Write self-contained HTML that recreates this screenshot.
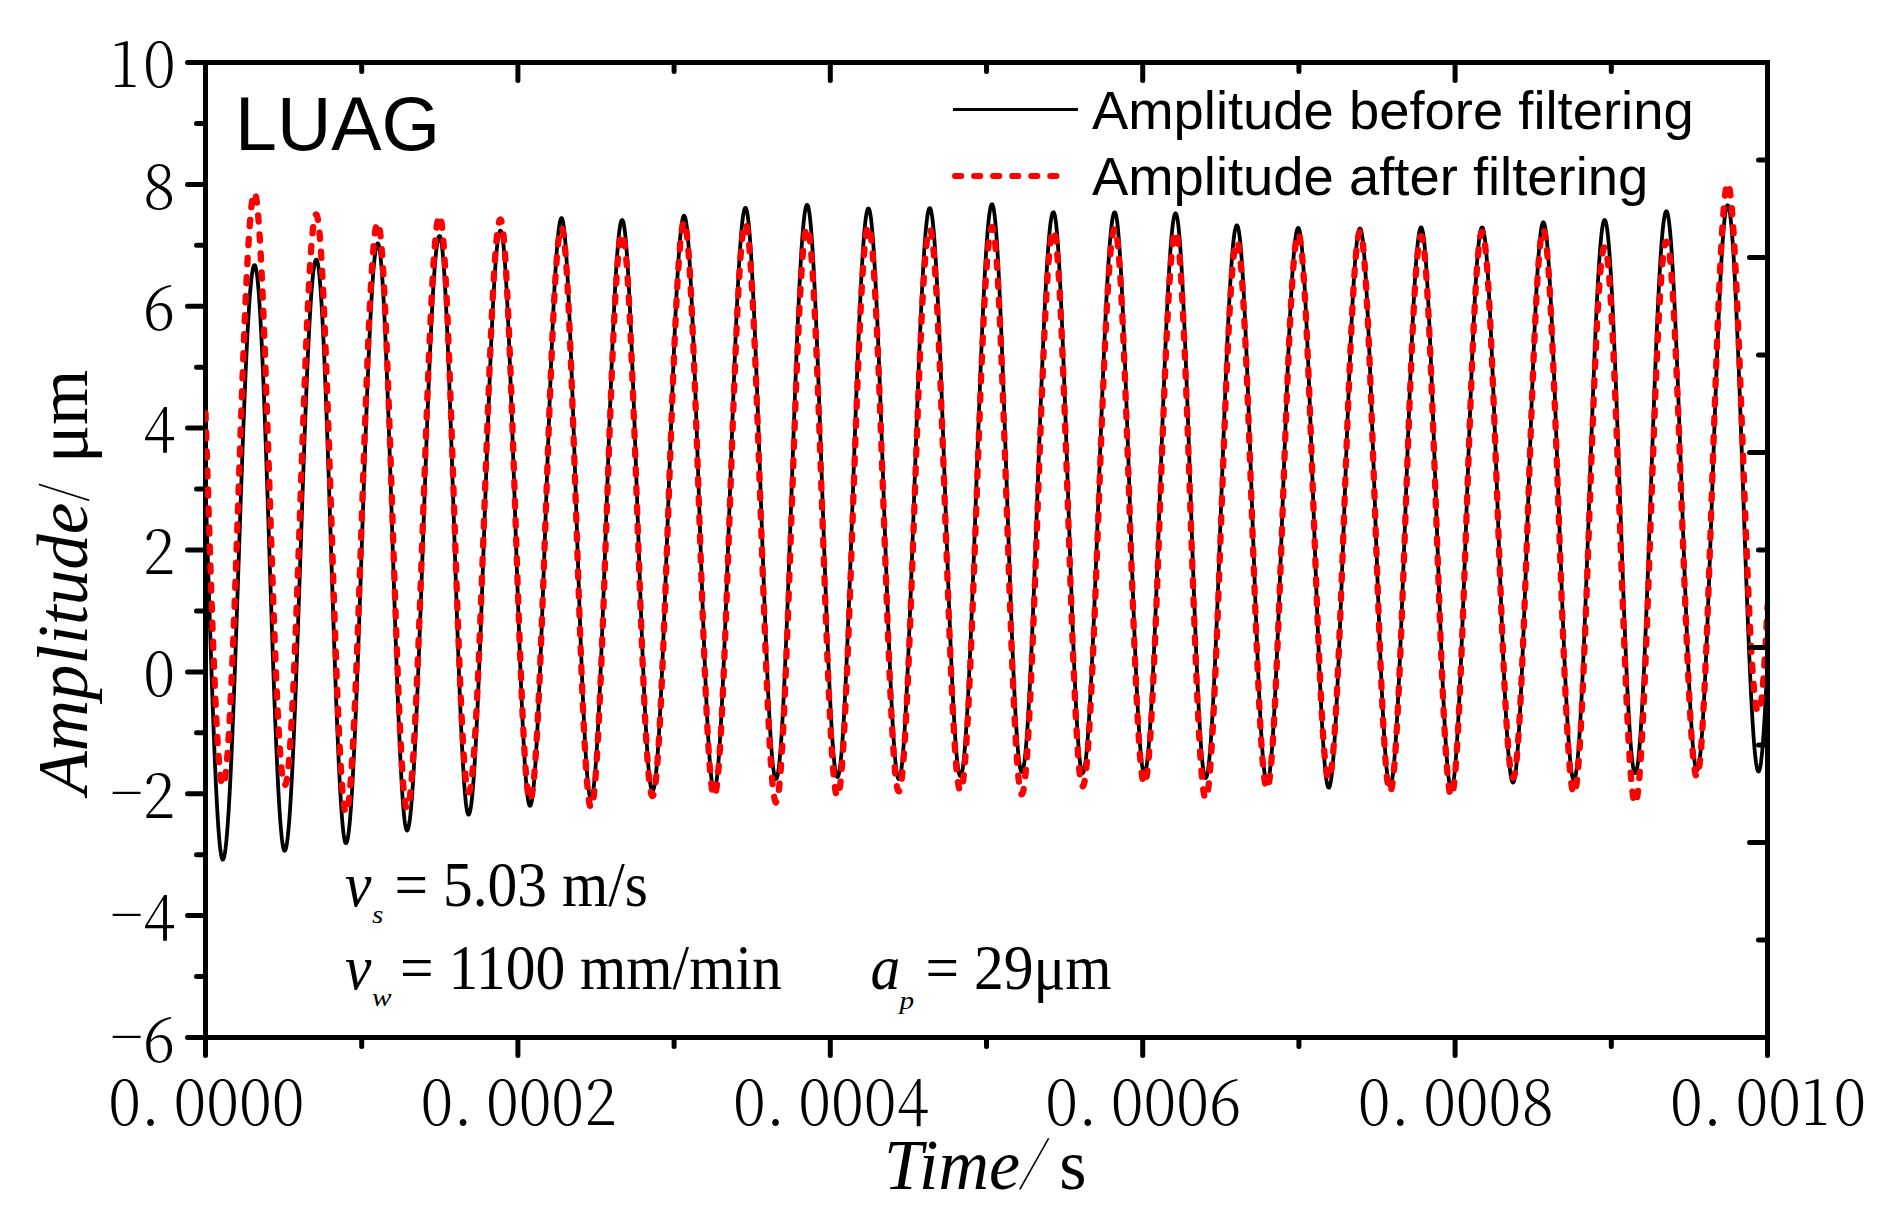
<!DOCTYPE html>
<html lang="en"><head><meta charset="utf-8"><title>LUAG amplitude before and after filtering</title>
<style>html,body{margin:0;padding:0;background:#fff;}body{width:1892px;height:1218px;overflow:hidden;}svg{display:block;}text{fill:#000;}</style>
</head><body>
<svg width="1892" height="1218" viewBox="0 0 1892 1218">
<rect x="0" y="0" width="1892" height="1218" fill="#fff"/>
<g stroke="#000" stroke-width="5" stroke-linecap="round" fill="none">
<path d="M205.5,60.0 V1040.0" stroke-linecap="butt"/>
<path d="M203.0,1037.5 H1770.0" stroke-linecap="butt"/>
<path d="M205.5,62.50 h-18"/>
<path d="M205.5,123.44 h-9"/>
<path d="M205.5,184.38 h-18"/>
<path d="M205.5,245.31 h-9"/>
<path d="M205.5,306.25 h-18"/>
<path d="M205.5,367.19 h-9"/>
<path d="M205.5,428.12 h-18"/>
<path d="M205.5,489.06 h-9"/>
<path d="M205.5,550.00 h-18"/>
<path d="M205.5,610.94 h-9"/>
<path d="M205.5,671.88 h-18"/>
<path d="M205.5,732.81 h-9"/>
<path d="M205.5,793.75 h-18"/>
<path d="M205.5,854.69 h-9"/>
<path d="M205.5,915.62 h-18"/>
<path d="M205.5,976.56 h-9"/>
<path d="M205.5,1037.50 h-18"/>
<path d="M205.50,1037.5 v18"/>
<path d="M361.70,1037.5 v9"/>
<path d="M517.90,1037.5 v18"/>
<path d="M674.10,1037.5 v9"/>
<path d="M830.30,1037.5 v18"/>
<path d="M986.50,1037.5 v9"/>
<path d="M1142.70,1037.5 v18"/>
<path d="M1298.90,1037.5 v9"/>
<path d="M1455.10,1037.5 v18"/>
<path d="M1611.30,1037.5 v9"/>
<path d="M1767.50,1037.5 v18"/>
</g>
<clipPath id="c"><rect x="205.0" y="62.5" width="1562.5" height="975.0"/></clipPath>
<g clip-path="url(#c)" fill="none" stroke-linejoin="round">
<path d="M205.5,486.2 L206.0,501.5 L206.5,517.0 L207.0,532.6 L207.5,548.3 L208.0,564.0 L208.5,579.7 L209.0,595.4 L209.5,610.9 L210.0,626.4 L210.5,641.6 L211.0,656.7 L211.5,671.4 L212.0,685.9 L212.5,700.0 L213.0,713.8 L213.5,727.1 L214.0,739.9 L214.5,752.3 L215.0,764.1 L215.5,775.4 L216.0,786.1 L216.5,796.1 L217.0,805.5 L217.5,814.2 L218.0,822.2 L218.5,829.5 L219.0,836.0 L219.5,841.8 L220.0,846.8 L220.5,850.9 L221.0,854.3 L221.5,856.9 L222.0,858.6 L222.5,859.6 L223.0,859.6 L223.5,858.9 L224.0,857.4 L224.5,855.2 L225.0,852.3 L225.5,848.7 L226.0,844.4 L226.5,839.4 L227.0,833.7 L227.5,827.4 L228.0,820.4 L228.5,812.8 L229.0,804.5 L229.5,795.7 L230.0,786.3 L230.5,776.3 L231.0,765.8 L231.5,754.8 L232.0,743.4 L232.5,731.5 L233.0,719.2 L233.5,706.5 L234.0,693.4 L234.5,680.1 L235.0,666.4 L235.5,652.5 L236.0,638.4 L236.5,624.1 L237.0,609.6 L237.5,595.0 L238.0,580.4 L238.5,565.7 L239.0,551.0 L239.5,536.3 L240.0,521.7 L240.5,507.2 L241.0,492.8 L241.5,478.6 L242.0,464.6 L242.5,450.8 L243.0,437.3 L243.5,424.1 L244.0,411.3 L244.5,398.8 L245.0,386.8 L245.5,375.1 L246.0,363.9 L246.5,353.2 L247.0,343.1 L247.5,333.4 L248.0,324.3 L248.5,315.8 L249.0,307.9 L249.5,300.6 L250.0,294.0 L250.5,288.0 L251.0,282.7 L251.5,278.1 L252.0,274.1 L252.5,270.9 L253.0,268.4 L253.5,266.5 L254.0,265.5 L254.5,265.1 L255.0,265.5 L255.5,266.6 L256.0,268.6 L256.5,271.3 L257.0,274.8 L257.5,279.1 L258.0,284.1 L258.5,289.9 L259.0,296.4 L259.5,303.7 L260.0,311.6 L260.5,320.2 L261.0,329.4 L261.5,339.2 L262.0,349.7 L262.5,360.7 L263.0,372.3 L263.5,384.3 L264.0,396.9 L264.5,409.8 L265.0,423.2 L265.5,436.9 L266.0,451.0 L266.5,465.3 L267.0,479.9 L267.5,494.7 L268.0,509.7 L268.5,524.8 L269.0,540.1 L269.5,555.3 L270.0,570.6 L270.5,585.8 L271.0,600.9 L271.5,616.0 L272.0,630.9 L272.5,645.5 L273.0,660.0 L273.5,674.1 L274.0,688.0 L274.5,701.5 L275.0,714.6 L275.5,727.3 L276.0,739.5 L276.5,751.2 L277.0,762.4 L277.5,773.0 L278.0,783.1 L278.5,792.6 L279.0,801.4 L279.5,809.5 L280.0,817.0 L280.5,823.8 L281.0,829.8 L281.5,835.1 L282.0,839.7 L282.5,843.4 L283.0,846.5 L283.5,848.7 L284.0,850.1 L284.5,850.8 L285.0,850.6 L285.5,849.8 L286.0,848.2 L286.5,845.8 L287.0,842.8 L287.5,839.1 L288.0,834.6 L288.5,829.5 L289.0,823.6 L289.5,817.1 L290.0,810.0 L290.5,802.2 L291.0,793.9 L291.5,784.9 L292.0,775.3 L292.5,765.3 L293.0,754.6 L293.5,743.5 L294.0,732.0 L294.5,720.0 L295.0,707.6 L295.5,694.8 L296.0,681.6 L296.5,668.2 L297.0,654.5 L297.5,640.5 L298.0,626.3 L298.5,611.9 L299.0,597.4 L299.5,582.8 L300.0,568.2 L300.5,553.5 L301.0,538.8 L301.5,524.1 L302.0,509.5 L302.5,495.0 L303.0,480.7 L303.5,466.6 L304.0,452.7 L304.5,439.0 L305.0,425.6 L305.5,412.6 L306.0,399.9 L306.5,387.6 L307.0,375.7 L307.5,364.2 L308.0,353.2 L308.5,342.7 L309.0,332.8 L309.5,323.4 L310.0,314.5 L310.5,306.3 L311.0,298.7 L311.5,291.7 L312.0,285.4 L312.5,279.7 L313.0,274.7 L313.5,270.4 L314.0,266.8 L314.5,264.0 L315.0,261.8 L315.5,260.4 L316.0,259.7 L316.5,259.7 L317.0,260.4 L317.5,262.0 L318.0,264.4 L318.5,267.6 L319.0,271.6 L319.5,276.3 L320.0,281.9 L320.5,288.1 L321.0,295.2 L321.5,302.9 L322.0,311.3 L322.5,320.4 L323.0,330.2 L323.5,340.6 L324.0,351.5 L324.5,363.0 L325.0,375.1 L325.5,387.6 L326.0,400.6 L326.5,414.0 L327.0,427.8 L327.5,442.0 L328.0,456.4 L328.5,471.1 L329.0,486.1 L329.5,501.2 L330.0,516.5 L330.5,531.8 L331.0,547.3 L331.5,562.7 L332.0,578.1 L332.5,593.4 L333.0,608.6 L333.5,623.7 L334.0,638.5 L334.5,653.2 L335.0,667.5 L335.5,681.5 L336.0,695.1 L336.5,708.4 L337.0,721.2 L337.5,733.5 L338.0,745.3 L338.5,756.6 L339.0,767.3 L339.5,777.3 L340.0,786.8 L340.5,795.6 L341.0,803.7 L341.5,811.1 L342.0,817.8 L342.5,823.7 L343.0,828.9 L343.5,833.3 L344.0,836.9 L344.5,839.7 L345.0,841.7 L345.5,842.9 L346.0,843.2 L346.5,842.7 L347.0,841.5 L347.5,839.6 L348.0,837.0 L348.5,833.6 L349.0,829.6 L349.5,824.9 L350.0,819.4 L350.5,813.3 L351.0,806.6 L351.5,799.2 L352.0,791.2 L352.5,782.5 L353.0,773.3 L353.5,763.6 L354.0,753.3 L354.5,742.5 L355.0,731.2 L355.5,719.4 L356.0,707.3 L356.5,694.7 L357.0,681.7 L357.5,668.5 L358.0,654.9 L358.5,641.0 L359.0,626.9 L359.5,612.6 L360.0,598.1 L360.5,583.5 L361.0,568.8 L361.5,554.1 L362.0,539.3 L362.5,524.5 L363.0,509.7 L363.5,495.1 L364.0,480.5 L364.5,466.2 L365.0,452.0 L365.5,438.0 L366.0,424.3 L366.5,410.8 L367.0,397.7 L367.5,385.0 L368.0,372.6 L368.5,360.6 L369.0,349.1 L369.5,338.1 L370.0,327.5 L370.5,317.5 L371.0,308.1 L371.5,299.2 L372.0,290.9 L372.5,283.2 L373.0,276.1 L373.5,269.7 L374.0,264.0 L374.5,258.9 L375.0,254.6 L375.5,250.9 L376.0,248.0 L376.5,245.7 L377.0,244.2 L377.5,243.4 L378.0,243.4 L378.5,244.3 L379.0,246.0 L379.5,248.6 L380.0,251.9 L380.5,256.1 L381.0,261.1 L381.5,267.0 L382.0,273.5 L382.5,280.9 L383.0,288.9 L383.5,297.7 L384.0,307.2 L384.5,317.3 L385.0,328.1 L385.5,339.5 L386.0,351.4 L386.5,363.9 L387.0,376.8 L387.5,390.2 L388.0,404.1 L388.5,418.3 L389.0,432.9 L389.5,447.7 L390.0,462.8 L390.5,478.2 L391.0,493.7 L391.5,509.3 L392.0,525.0 L392.5,540.7 L393.0,556.4 L393.5,572.1 L394.0,587.6 L394.5,603.1 L395.0,618.3 L395.5,633.3 L396.0,648.0 L396.5,662.4 L397.0,676.4 L397.5,690.0 L398.0,703.2 L398.5,716.0 L399.0,728.2 L399.5,739.8 L400.0,750.9 L400.5,761.3 L401.0,771.2 L401.5,780.3 L402.0,788.7 L402.5,796.5 L403.0,803.4 L403.5,809.7 L404.0,815.1 L404.5,819.7 L405.0,823.5 L405.5,826.5 L406.0,828.7 L406.5,830.0 L407.0,830.5 L407.5,830.2 L408.0,829.1 L408.5,827.4 L409.0,825.0 L409.5,821.9 L410.0,818.2 L410.5,813.7 L411.0,808.6 L411.5,802.9 L412.0,796.6 L412.5,789.6 L413.0,782.0 L413.5,773.9 L414.0,765.1 L414.5,755.9 L415.0,746.1 L415.5,735.8 L416.0,725.1 L416.5,713.9 L417.0,702.3 L417.5,690.3 L418.0,677.9 L418.5,665.2 L419.0,652.2 L419.5,638.9 L420.0,625.3 L420.5,611.6 L421.0,597.6 L421.5,583.5 L422.0,569.3 L422.5,555.0 L423.0,540.7 L423.5,526.3 L424.0,512.0 L424.5,497.7 L425.0,483.5 L425.5,469.4 L426.0,455.5 L426.5,441.7 L427.0,428.2 L427.5,414.9 L428.0,401.8 L428.5,389.1 L429.0,376.7 L429.5,364.7 L430.0,353.1 L430.5,341.9 L431.0,331.1 L431.5,320.9 L432.0,311.1 L432.5,301.8 L433.0,293.1 L433.5,284.9 L434.0,277.3 L434.5,270.3 L435.0,263.9 L435.5,258.2 L436.0,253.1 L436.5,248.6 L437.0,244.8 L437.5,241.6 L438.0,239.2 L438.5,237.4 L439.0,236.3 L439.5,235.9 L440.0,236.3 L440.5,237.5 L441.0,239.6 L441.5,242.5 L442.0,246.3 L442.5,250.9 L443.0,256.3 L443.5,262.4 L444.0,269.4 L444.5,277.1 L445.0,285.5 L445.5,294.6 L446.0,304.5 L446.5,314.9 L447.0,326.0 L447.5,337.7 L448.0,349.9 L448.5,362.6 L449.0,375.8 L449.5,389.4 L450.0,403.5 L450.5,417.9 L451.0,432.6 L451.5,447.5 L452.0,462.7 L452.5,478.1 L453.0,493.7 L453.5,509.3 L454.0,524.9 L454.5,540.6 L455.0,556.2 L455.5,571.7 L456.0,587.1 L456.5,602.3 L457.0,617.3 L457.5,632.0 L458.0,646.4 L458.5,660.4 L459.0,674.1 L459.5,687.3 L460.0,700.0 L460.5,712.2 L461.0,723.9 L461.5,735.0 L462.0,745.5 L462.5,755.3 L463.0,764.5 L463.5,772.9 L464.0,780.6 L464.5,787.6 L465.0,793.8 L465.5,799.3 L466.0,803.9 L466.5,807.7 L467.0,810.7 L467.5,812.8 L468.0,814.1 L468.5,814.6 L469.0,814.3 L469.5,813.3 L470.0,811.6 L470.5,809.2 L471.0,806.1 L471.5,802.3 L472.0,797.9 L472.5,792.7 L473.0,787.0 L473.5,780.5 L474.0,773.5 L474.5,765.8 L475.0,757.5 L475.5,748.7 L476.0,739.3 L476.5,729.4 L477.0,719.0 L477.5,708.1 L478.0,696.8 L478.5,685.0 L479.0,672.9 L479.5,660.4 L480.0,647.5 L480.5,634.4 L481.0,620.9 L481.5,607.3 L482.0,593.4 L482.5,579.4 L483.0,565.2 L483.5,550.9 L484.0,536.5 L484.5,522.2 L485.0,507.8 L485.5,493.4 L486.0,479.1 L486.5,465.0 L487.0,450.9 L487.5,437.1 L488.0,423.4 L488.5,410.0 L489.0,396.9 L489.5,384.1 L490.0,371.6 L490.5,359.5 L491.0,347.7 L491.5,336.4 L492.0,325.6 L492.5,315.2 L493.0,305.3 L493.5,296.0 L494.0,287.2 L494.5,279.0 L495.0,271.3 L495.5,264.3 L496.0,257.9 L496.5,252.2 L497.0,247.1 L497.5,242.7 L498.0,238.9 L498.5,235.9 L499.0,233.5 L499.5,231.8 L500.0,230.9 L500.5,230.6 L501.0,231.1 L501.5,232.3 L502.0,234.4 L502.5,237.3 L503.0,241.0 L503.5,245.5 L504.0,250.8 L504.5,256.8 L505.0,263.5 L505.5,271.0 L506.0,279.2 L506.5,288.0 L507.0,297.5 L507.5,307.6 L508.0,318.4 L508.5,329.7 L509.0,341.5 L509.5,353.8 L510.0,366.6 L510.5,379.8 L511.0,393.4 L511.5,407.4 L512.0,421.7 L512.5,436.2 L513.0,451.0 L513.5,466.0 L514.0,481.1 L514.5,496.3 L515.0,511.6 L515.5,526.9 L516.0,542.2 L516.5,557.4 L517.0,572.5 L517.5,587.5 L518.0,602.3 L518.5,616.8 L519.0,631.0 L519.5,644.9 L520.0,658.5 L520.5,671.7 L521.0,684.4 L521.5,696.7 L522.0,708.4 L522.5,719.6 L523.0,730.3 L523.5,740.3 L524.0,749.7 L524.5,758.5 L525.0,766.6 L525.5,773.9 L526.0,780.6 L526.5,786.5 L527.0,791.6 L527.5,796.0 L528.0,799.6 L528.5,802.3 L529.0,804.3 L529.5,805.5 L530.0,805.8 L530.5,805.4 L531.0,804.2 L531.5,802.4 L532.0,799.8 L532.5,796.5 L533.0,792.5 L533.5,787.8 L534.0,782.5 L534.5,776.4 L535.0,769.8 L535.5,762.4 L536.0,754.5 L536.5,746.0 L537.0,736.9 L537.5,727.2 L538.0,717.0 L538.5,706.3 L539.0,695.1 L539.5,683.5 L540.0,671.4 L540.5,659.0 L541.0,646.1 L541.5,633.0 L542.0,619.5 L542.5,605.8 L543.0,591.9 L543.5,577.7 L544.0,563.4 L544.5,549.0 L545.0,534.5 L545.5,519.9 L546.0,505.3 L546.5,490.7 L547.0,476.1 L547.5,461.7 L548.0,447.4 L548.5,433.2 L549.0,419.2 L549.5,405.5 L550.0,392.0 L550.5,378.8 L551.0,366.0 L551.5,353.5 L552.0,341.4 L552.5,329.7 L553.0,318.5 L553.5,307.7 L554.0,297.5 L554.5,287.8 L555.0,278.6 L555.5,270.0 L556.0,262.0 L556.5,254.6 L557.0,247.9 L557.5,241.8 L558.0,236.4 L558.5,231.7 L559.0,227.6 L559.5,224.3 L560.0,221.7 L560.5,219.8 L561.0,218.6 L561.5,218.1 L562.0,218.5 L562.5,219.8 L563.0,221.9 L563.5,224.8 L564.0,228.5 L564.5,233.0 L565.0,238.2 L565.5,244.3 L566.0,251.1 L566.5,258.6 L567.0,266.8 L567.5,275.8 L568.0,285.4 L568.5,295.6 L569.0,306.4 L569.5,317.8 L570.0,329.7 L570.5,342.2 L571.0,355.1 L571.5,368.4 L572.0,382.2 L572.5,396.3 L573.0,410.7 L573.5,425.4 L574.0,440.3 L574.5,455.5 L575.0,470.7 L575.5,486.1 L576.0,501.5 L576.5,517.0 L577.0,532.4 L577.5,547.8 L578.0,563.0 L578.5,578.1 L579.0,593.0 L579.5,607.6 L580.0,622.0 L580.5,636.0 L581.0,649.7 L581.5,663.0 L582.0,675.8 L582.5,688.2 L583.0,700.0 L583.5,711.3 L584.0,722.0 L584.5,732.2 L585.0,741.6 L585.5,750.5 L586.0,758.6 L586.5,766.0 L587.0,772.7 L587.5,778.6 L588.0,783.8 L588.5,788.2 L589.0,791.8 L589.5,794.6 L590.0,796.6 L590.5,797.8 L591.0,798.1 L591.5,797.7 L592.0,796.5 L592.5,794.6 L593.0,792.0 L593.5,788.6 L594.0,784.6 L594.5,779.8 L595.0,774.3 L595.5,768.2 L596.0,761.4 L596.5,754.0 L597.0,745.9 L597.5,737.2 L598.0,728.0 L598.5,718.2 L599.0,707.8 L599.5,697.0 L600.0,685.7 L600.5,673.9 L601.0,661.7 L601.5,649.1 L602.0,636.2 L602.5,622.9 L603.0,609.4 L603.5,595.6 L604.0,581.5 L604.5,567.3 L605.0,553.0 L605.5,538.5 L606.0,523.9 L606.5,509.4 L607.0,494.8 L607.5,480.2 L608.0,465.8 L608.5,451.4 L609.0,437.2 L609.5,423.2 L610.0,409.4 L610.5,395.8 L611.0,382.5 L611.5,369.6 L612.0,357.0 L612.5,344.8 L613.0,333.0 L613.5,321.7 L614.0,310.8 L614.5,300.5 L615.0,290.7 L615.5,281.4 L616.0,272.7 L616.5,264.6 L617.0,257.2 L617.5,250.3 L618.0,244.2 L618.5,238.7 L619.0,233.9 L619.5,229.8 L620.0,226.4 L620.5,223.7 L621.0,221.7 L621.5,220.5 L622.0,220.0 L622.5,220.2 L623.0,221.2 L623.5,222.9 L624.0,225.4 L624.5,228.6 L625.0,232.6 L625.5,237.3 L626.0,242.7 L626.5,248.9 L627.0,255.7 L627.5,263.2 L628.0,271.3 L628.5,280.1 L629.0,289.5 L629.5,299.4 L630.0,309.9 L630.5,321.0 L631.0,332.5 L631.5,344.5 L632.0,356.9 L632.5,369.7 L633.0,382.9 L633.5,396.4 L634.0,410.2 L634.5,424.2 L635.0,438.5 L635.5,453.0 L636.0,467.6 L636.5,482.2 L637.0,497.0 L637.5,511.8 L638.0,526.5 L638.5,541.2 L639.0,555.8 L639.5,570.3 L640.0,584.6 L640.5,598.7 L641.0,612.5 L641.5,626.1 L642.0,639.3 L642.5,652.2 L643.0,664.7 L643.5,676.7 L644.0,688.3 L644.5,699.4 L645.0,710.0 L645.5,720.0 L646.0,729.5 L646.5,738.3 L647.0,746.6 L647.5,754.2 L648.0,761.1 L648.5,767.3 L649.0,772.9 L649.5,777.7 L650.0,781.8 L650.5,785.1 L651.0,787.7 L651.5,789.6 L652.0,790.7 L652.5,791.0 L653.0,790.6 L653.5,789.6 L654.0,787.8 L654.5,785.3 L655.0,782.1 L655.5,778.3 L656.0,773.8 L656.5,768.6 L657.0,762.7 L657.5,756.2 L658.0,749.1 L658.5,741.4 L659.0,733.1 L659.5,724.2 L660.0,714.8 L660.5,704.9 L661.0,694.4 L661.5,683.5 L662.0,672.2 L662.5,660.4 L663.0,648.2 L663.5,635.7 L664.0,622.9 L664.5,609.8 L665.0,596.4 L665.5,582.7 L666.0,568.9 L666.5,554.9 L667.0,540.8 L667.5,526.6 L668.0,512.4 L668.5,498.1 L669.0,483.8 L669.5,469.6 L670.0,455.5 L670.5,441.4 L671.0,427.6 L671.5,413.9 L672.0,400.4 L672.5,387.2 L673.0,374.3 L673.5,361.7 L674.0,349.4 L674.5,337.6 L675.0,326.1 L675.5,315.1 L676.0,304.5 L676.5,294.4 L677.0,284.9 L677.5,275.9 L678.0,267.4 L678.5,259.5 L679.0,252.3 L679.5,245.6 L680.0,239.6 L680.5,234.2 L681.0,229.5 L681.5,225.5 L682.0,222.2 L682.5,219.5 L683.0,217.6 L683.5,216.4 L684.0,215.8 L684.5,216.0 L685.0,217.0 L685.5,218.7 L686.0,221.2 L686.5,224.5 L687.0,228.6 L687.5,233.4 L688.0,238.9 L688.5,245.2 L689.0,252.2 L689.5,259.9 L690.0,268.2 L690.5,277.2 L691.0,286.8 L691.5,297.0 L692.0,307.8 L692.5,319.0 L693.0,330.9 L693.5,343.1 L694.0,355.8 L694.5,369.0 L695.0,382.4 L695.5,396.3 L696.0,410.4 L696.5,424.7 L697.0,439.3 L697.5,454.1 L698.0,469.0 L698.5,484.0 L699.0,499.0 L699.5,514.0 L700.0,529.1 L700.5,544.0 L701.0,558.8 L701.5,573.5 L702.0,588.0 L702.5,602.3 L703.0,616.2 L703.5,629.9 L704.0,643.2 L704.5,656.2 L705.0,668.7 L705.5,680.7 L706.0,692.3 L706.5,703.4 L707.0,713.9 L707.5,723.8 L708.0,733.1 L708.5,741.8 L709.0,749.8 L709.5,757.1 L710.0,763.8 L710.5,769.7 L711.0,774.9 L711.5,779.3 L712.0,783.0 L712.5,785.9 L713.0,788.0 L713.5,789.3 L714.0,789.9 L714.5,789.6 L715.0,788.6 L715.5,786.8 L716.0,784.3 L716.5,781.1 L717.0,777.2 L717.5,772.6 L718.0,767.4 L718.5,761.4 L719.0,754.8 L719.5,747.6 L720.0,739.7 L720.5,731.2 L721.0,722.1 L721.5,712.5 L722.0,702.4 L722.5,691.7 L723.0,680.6 L723.5,669.0 L724.0,657.0 L724.5,644.5 L725.0,631.7 L725.5,618.6 L726.0,605.2 L726.5,591.5 L727.0,577.6 L727.5,563.5 L728.0,549.2 L728.5,534.8 L729.0,520.3 L729.5,505.8 L730.0,491.2 L730.5,476.7 L731.0,462.2 L731.5,447.8 L732.0,433.5 L732.5,419.4 L733.0,405.5 L733.5,391.9 L734.0,378.5 L734.5,365.4 L735.0,352.6 L735.5,340.2 L736.0,328.2 L736.5,316.6 L737.0,305.5 L737.5,294.9 L738.0,284.7 L738.5,275.2 L739.0,266.1 L739.5,257.7 L740.0,249.8 L740.5,242.6 L741.0,236.0 L741.5,230.1 L742.0,224.9 L742.5,220.3 L743.0,216.4 L743.5,213.3 L744.0,210.8 L744.5,209.1 L745.0,208.1 L745.5,207.8 L746.0,208.3 L746.5,209.6 L747.0,211.6 L747.5,214.4 L748.0,217.9 L748.5,222.1 L749.0,227.1 L749.5,232.7 L750.0,239.1 L750.5,246.1 L751.0,253.8 L751.5,262.1 L752.0,271.1 L752.5,280.6 L753.0,290.7 L753.5,301.3 L754.0,312.5 L754.5,324.1 L755.0,336.1 L755.5,348.6 L756.0,361.5 L756.5,374.7 L757.0,388.2 L757.5,402.0 L758.0,416.0 L758.5,430.3 L759.0,444.7 L759.5,459.2 L760.0,473.9 L760.5,488.5 L761.0,503.2 L761.5,517.9 L762.0,532.5 L762.5,547.0 L763.0,561.3 L763.5,575.5 L764.0,589.5 L764.5,603.2 L765.0,616.6 L765.5,629.7 L766.0,642.4 L766.5,654.7 L767.0,666.6 L767.5,678.1 L768.0,689.0 L768.5,699.5 L769.0,709.4 L769.5,718.7 L770.0,727.4 L770.5,735.5 L771.0,743.0 L771.5,749.8 L772.0,756.0 L772.5,761.4 L773.0,766.1 L773.5,770.1 L774.0,773.4 L774.5,776.0 L775.0,777.8 L775.5,778.8 L776.0,779.1 L776.5,778.7 L777.0,777.6 L777.5,775.8 L778.0,773.2 L778.5,769.9 L779.0,766.0 L779.5,761.3 L780.0,755.9 L780.5,749.9 L781.0,743.2 L781.5,735.8 L782.0,727.9 L782.5,719.3 L783.0,710.2 L783.5,700.5 L784.0,690.3 L784.5,679.6 L785.0,668.4 L785.5,656.7 L786.0,644.6 L786.5,632.2 L787.0,619.3 L787.5,606.2 L788.0,592.8 L788.5,579.1 L789.0,565.2 L789.5,551.1 L790.0,536.8 L790.5,522.4 L791.0,508.0 L791.5,493.5 L792.0,479.0 L792.5,464.6 L793.0,450.2 L793.5,435.9 L794.0,421.8 L794.5,407.8 L795.0,394.1 L795.5,380.6 L796.0,367.4 L796.5,354.5 L797.0,341.9 L797.5,329.8 L798.0,318.0 L798.5,306.7 L799.0,295.9 L799.5,285.6 L800.0,275.7 L800.5,266.5 L801.0,257.8 L801.5,249.7 L802.0,242.2 L802.5,235.4 L803.0,229.2 L803.5,223.7 L804.0,218.9 L804.5,214.8 L805.0,211.3 L805.5,208.6 L806.0,206.6 L806.5,205.4 L807.0,204.8 L807.5,205.1 L808.0,206.1 L808.5,207.9 L809.0,210.5 L809.5,213.8 L810.0,217.8 L810.5,222.6 L811.0,228.1 L811.5,234.4 L812.0,241.3 L812.5,248.8 L813.0,257.1 L813.5,265.9 L814.0,275.4 L814.5,285.5 L815.0,296.0 L815.5,307.2 L816.0,318.8 L816.5,330.9 L817.0,343.4 L817.5,356.3 L818.0,369.5 L818.5,383.1 L819.0,397.0 L819.5,411.1 L820.0,425.5 L820.5,440.0 L821.0,454.7 L821.5,469.4 L822.0,484.2 L822.5,499.1 L823.0,513.9 L823.5,528.6 L824.0,543.3 L824.5,557.8 L825.0,572.1 L825.5,586.2 L826.0,600.0 L826.5,613.6 L827.0,626.8 L827.5,639.7 L828.0,652.1 L828.5,664.2 L829.0,675.7 L829.5,686.8 L830.0,697.3 L830.5,707.3 L831.0,716.7 L831.5,725.5 L832.0,733.7 L832.5,741.2 L833.0,748.0 L833.5,754.2 L834.0,759.7 L834.5,764.4 L835.0,768.4 L835.5,771.6 L836.0,774.1 L836.5,775.9 L837.0,776.9 L837.5,777.1 L838.0,776.6 L838.5,775.4 L839.0,773.4 L839.5,770.7 L840.0,767.3 L840.5,763.2 L841.0,758.4 L841.5,753.0 L842.0,746.8 L842.5,740.0 L843.0,732.6 L843.5,724.5 L844.0,715.9 L844.5,706.6 L845.0,696.9 L845.5,686.6 L846.0,675.8 L846.5,664.5 L847.0,652.8 L847.5,640.7 L848.0,628.2 L848.5,615.3 L849.0,602.1 L849.5,588.7 L850.0,575.0 L850.5,561.1 L851.0,547.0 L851.5,532.8 L852.0,518.5 L852.5,504.1 L853.0,489.7 L853.5,475.3 L854.0,460.9 L854.5,446.6 L855.0,432.4 L855.5,418.4 L856.0,404.6 L856.5,391.0 L857.0,377.7 L857.5,364.7 L858.0,352.0 L858.5,339.6 L859.0,327.7 L859.5,316.1 L860.0,305.1 L860.5,294.5 L861.0,284.4 L861.5,274.9 L862.0,265.9 L862.5,257.5 L863.0,249.7 L863.5,242.5 L864.0,236.0 L864.5,230.1 L865.0,224.9 L865.5,220.4 L866.0,216.6 L866.5,213.6 L867.0,211.2 L867.5,209.5 L868.0,208.6 L868.5,208.4 L869.0,208.9 L869.5,210.2 L870.0,212.3 L870.5,215.1 L871.0,218.6 L871.5,222.9 L872.0,227.9 L872.5,233.6 L873.0,240.0 L873.5,247.0 L874.0,254.8 L874.5,263.1 L875.0,272.1 L875.5,281.7 L876.0,291.8 L876.5,302.5 L877.0,313.7 L877.5,325.4 L878.0,337.5 L878.5,350.0 L879.0,362.9 L879.5,376.2 L880.0,389.8 L880.5,403.6 L881.0,417.7 L881.5,432.0 L882.0,446.5 L882.5,461.1 L883.0,475.8 L883.5,490.5 L884.0,505.2 L884.5,519.9 L885.0,534.6 L885.5,549.1 L886.0,563.5 L886.5,577.7 L887.0,591.7 L887.5,605.4 L888.0,618.8 L888.5,631.9 L889.0,644.6 L889.5,656.9 L890.0,668.8 L890.5,680.2 L891.0,691.1 L891.5,701.5 L892.0,711.3 L892.5,720.5 L893.0,729.2 L893.5,737.2 L894.0,744.6 L894.5,751.2 L895.0,757.3 L895.5,762.6 L896.0,767.1 L896.5,771.0 L897.0,774.1 L897.5,776.5 L898.0,778.1 L898.5,779.0 L899.0,779.0 L899.5,778.3 L900.0,776.9 L900.5,774.8 L901.0,771.9 L901.5,768.3 L902.0,764.0 L902.5,759.0 L903.0,753.3 L903.5,746.9 L904.0,739.9 L904.5,732.2 L905.0,724.0 L905.5,715.1 L906.0,705.7 L906.5,695.7 L907.0,685.2 L907.5,674.2 L908.0,662.7 L908.5,650.8 L909.0,638.5 L909.5,625.8 L910.0,612.8 L910.5,599.4 L911.0,585.8 L911.5,572.0 L912.0,558.0 L912.5,543.7 L913.0,529.4 L913.5,515.0 L914.0,500.5 L914.5,486.0 L915.0,471.5 L915.5,457.1 L916.0,442.7 L916.5,428.5 L917.0,414.5 L917.5,400.6 L918.0,387.1 L918.5,373.7 L919.0,360.7 L919.5,348.1 L920.0,335.8 L920.5,323.9 L921.0,312.5 L921.5,301.5 L922.0,291.0 L922.5,281.0 L923.0,271.6 L923.5,262.8 L924.0,254.6 L924.5,246.9 L925.0,239.9 L925.5,233.6 L926.0,227.9 L926.5,223.0 L927.0,218.7 L927.5,215.1 L928.0,212.3 L928.5,210.1 L929.0,208.7 L929.5,208.1 L930.0,208.1 L930.5,208.9 L931.0,210.4 L931.5,212.7 L932.0,215.7 L932.5,219.4 L933.0,223.9 L933.5,229.0 L934.0,234.9 L934.5,241.4 L935.0,248.6 L935.5,256.4 L936.0,264.8 L936.5,273.8 L937.0,283.4 L937.5,293.5 L938.0,304.2 L938.5,315.4 L939.0,327.0 L939.5,339.0 L940.0,351.5 L940.5,364.3 L941.0,377.5 L941.5,390.9 L942.0,404.6 L942.5,418.6 L943.0,432.7 L943.5,447.0 L944.0,461.5 L944.5,476.0 L945.0,490.5 L945.5,505.0 L946.0,519.6 L946.5,534.0 L947.0,548.3 L947.5,562.5 L948.0,576.5 L948.5,590.3 L949.0,603.8 L949.5,617.0 L950.0,629.9 L950.5,642.5 L951.0,654.6 L951.5,666.3 L952.0,677.6 L952.5,688.3 L953.0,698.6 L953.5,708.3 L954.0,717.5 L954.5,726.0 L955.0,734.0 L955.5,741.3 L956.0,747.9 L956.5,753.9 L957.0,759.2 L957.5,763.8 L958.0,767.7 L958.5,770.8 L959.0,773.2 L959.5,774.9 L960.0,775.9 L960.5,776.1 L961.0,775.6 L961.5,774.3 L962.0,772.4 L962.5,769.8 L963.0,766.5 L963.5,762.5 L964.0,757.8 L964.5,752.5 L965.0,746.5 L965.5,739.9 L966.0,732.7 L966.5,724.9 L967.0,716.5 L967.5,707.5 L968.0,698.0 L968.5,688.0 L969.0,677.6 L969.5,666.6 L970.0,655.2 L970.5,643.4 L971.0,631.3 L971.5,618.7 L972.0,605.9 L972.5,592.8 L973.0,579.4 L973.5,565.8 L974.0,552.1 L974.5,538.1 L975.0,524.1 L975.5,509.9 L976.0,495.8 L976.5,481.6 L977.0,467.4 L977.5,453.3 L978.0,439.3 L978.5,425.4 L979.0,411.6 L979.5,398.1 L980.0,384.8 L980.5,371.7 L981.0,358.9 L981.5,346.5 L982.0,334.4 L982.5,322.7 L983.0,311.4 L983.5,300.5 L984.0,290.1 L984.5,280.3 L985.0,270.9 L985.5,262.0 L986.0,253.8 L986.5,246.1 L987.0,239.0 L987.5,232.5 L988.0,226.7 L988.5,221.5 L989.0,217.0 L989.5,213.1 L990.0,209.9 L990.5,207.5 L991.0,205.7 L991.5,204.6 L992.0,204.2 L992.5,204.7 L993.0,205.9 L993.5,208.0 L994.0,210.8 L994.5,214.4 L995.0,218.8 L995.5,223.9 L996.0,229.8 L996.5,236.4 L997.0,243.7 L997.5,251.7 L998.0,260.3 L998.5,269.6 L999.0,279.5 L999.5,290.0 L1000.0,301.0 L1000.5,312.6 L1001.0,324.6 L1001.5,337.1 L1002.0,350.0 L1002.5,363.4 L1003.0,377.0 L1003.5,391.0 L1004.0,405.2 L1004.5,419.7 L1005.0,434.3 L1005.5,449.1 L1006.0,464.0 L1006.5,479.0 L1007.0,494.0 L1007.5,509.0 L1008.0,523.9 L1008.5,538.8 L1009.0,553.4 L1009.5,567.9 L1010.0,582.2 L1010.5,596.2 L1011.0,609.9 L1011.5,623.3 L1012.0,636.3 L1012.5,648.8 L1013.0,661.0 L1013.5,672.6 L1014.0,683.7 L1014.5,694.3 L1015.0,704.3 L1015.5,713.7 L1016.0,722.5 L1016.5,730.6 L1017.0,738.0 L1017.5,744.8 L1018.0,750.8 L1018.5,756.1 L1019.0,760.7 L1019.5,764.4 L1020.0,767.5 L1020.5,769.7 L1021.0,771.2 L1021.5,771.9 L1022.0,771.8 L1022.5,771.0 L1023.0,769.6 L1023.5,767.5 L1024.0,764.7 L1024.5,761.2 L1025.0,757.0 L1025.5,752.2 L1026.0,746.8 L1026.5,740.7 L1027.0,734.0 L1027.5,726.8 L1028.0,718.9 L1028.5,710.5 L1029.0,701.5 L1029.5,692.1 L1030.0,682.1 L1030.5,671.7 L1031.0,660.8 L1031.5,649.5 L1032.0,637.8 L1032.5,625.8 L1033.0,613.4 L1033.5,600.8 L1034.0,587.8 L1034.5,574.7 L1035.0,561.3 L1035.5,547.7 L1036.0,534.1 L1036.5,520.3 L1037.0,506.4 L1037.5,492.6 L1038.0,478.7 L1038.5,464.8 L1039.0,451.0 L1039.5,437.4 L1040.0,423.8 L1040.5,410.4 L1041.0,397.3 L1041.5,384.3 L1042.0,371.6 L1042.5,359.3 L1043.0,347.2 L1043.5,335.5 L1044.0,324.2 L1044.5,313.3 L1045.0,302.9 L1045.5,292.9 L1046.0,283.4 L1046.5,274.4 L1047.0,265.9 L1047.5,258.0 L1048.0,250.7 L1048.5,244.0 L1049.0,237.9 L1049.5,232.4 L1050.0,227.5 L1050.5,223.3 L1051.0,219.8 L1051.5,216.9 L1052.0,214.7 L1052.5,213.2 L1053.0,212.4 L1053.5,212.2 L1054.0,212.8 L1054.5,214.2 L1055.0,216.3 L1055.5,219.3 L1056.0,223.1 L1056.5,227.6 L1057.0,233.0 L1057.5,239.0 L1058.0,245.8 L1058.5,253.3 L1059.0,261.5 L1059.5,270.4 L1060.0,279.9 L1060.5,290.1 L1061.0,300.8 L1061.5,312.0 L1062.0,323.8 L1062.5,336.1 L1063.0,348.9 L1063.5,362.0 L1064.0,375.5 L1064.5,389.4 L1065.0,403.6 L1065.5,418.0 L1066.0,432.6 L1066.5,447.5 L1067.0,462.4 L1067.5,477.4 L1068.0,492.5 L1068.5,507.6 L1069.0,522.6 L1069.5,537.6 L1070.0,552.4 L1070.5,567.0 L1071.0,581.5 L1071.5,595.6 L1072.0,609.5 L1072.5,623.0 L1073.0,636.2 L1073.5,648.9 L1074.0,661.2 L1074.5,673.0 L1075.0,684.3 L1075.5,695.1 L1076.0,705.2 L1076.5,714.7 L1077.0,723.6 L1077.5,731.8 L1078.0,739.4 L1078.5,746.2 L1079.0,752.3 L1079.5,757.6 L1080.0,762.1 L1080.5,765.9 L1081.0,768.9 L1081.5,771.1 L1082.0,772.5 L1082.5,773.1 L1083.0,772.9 L1083.5,772.0 L1084.0,770.5 L1084.5,768.3 L1085.0,765.4 L1085.5,761.9 L1086.0,757.7 L1086.5,752.9 L1087.0,747.5 L1087.5,741.5 L1088.0,734.8 L1088.5,727.6 L1089.0,719.9 L1089.5,711.5 L1090.0,702.7 L1090.5,693.4 L1091.0,683.5 L1091.5,673.3 L1092.0,662.6 L1092.5,651.4 L1093.0,639.9 L1093.5,628.1 L1094.0,615.9 L1094.5,603.5 L1095.0,590.7 L1095.5,577.7 L1096.0,564.6 L1096.5,551.2 L1097.0,537.7 L1097.5,524.1 L1098.0,510.5 L1098.5,496.8 L1099.0,483.0 L1099.5,469.3 L1100.0,455.7 L1100.5,442.1 L1101.0,428.7 L1101.5,415.4 L1102.0,402.3 L1102.5,389.5 L1103.0,376.8 L1103.5,364.5 L1104.0,352.4 L1104.5,340.7 L1105.0,329.4 L1105.5,318.4 L1106.0,307.9 L1106.5,297.8 L1107.0,288.1 L1107.5,279.0 L1108.0,270.4 L1108.5,262.3 L1109.0,254.7 L1109.5,247.7 L1110.0,241.4 L1110.5,235.6 L1111.0,230.4 L1111.5,225.8 L1112.0,221.9 L1112.5,218.7 L1113.0,216.1 L1113.5,214.1 L1114.0,212.9 L1114.5,212.3 L1115.0,212.3 L1115.5,213.2 L1116.0,214.9 L1116.5,217.3 L1117.0,220.6 L1117.5,224.5 L1118.0,229.3 L1118.5,234.8 L1119.0,241.0 L1119.5,247.9 L1120.0,255.5 L1120.5,263.8 L1121.0,272.7 L1121.5,282.2 L1122.0,292.4 L1122.5,303.1 L1123.0,314.3 L1123.5,326.0 L1124.0,338.2 L1124.5,350.8 L1125.0,363.9 L1125.5,377.3 L1126.0,391.0 L1126.5,405.0 L1127.0,419.2 L1127.5,433.7 L1128.0,448.3 L1128.5,463.1 L1129.0,477.9 L1129.5,492.8 L1130.0,507.7 L1130.5,522.5 L1131.0,537.2 L1131.5,551.9 L1132.0,566.3 L1132.5,580.6 L1133.0,594.6 L1133.5,608.3 L1134.0,621.7 L1134.5,634.7 L1135.0,647.3 L1135.5,659.5 L1136.0,671.2 L1136.5,682.4 L1137.0,693.1 L1137.5,703.2 L1138.0,712.8 L1138.5,721.7 L1139.0,729.9 L1139.5,737.5 L1140.0,744.4 L1140.5,750.6 L1141.0,756.1 L1141.5,760.8 L1142.0,764.8 L1142.5,768.0 L1143.0,770.4 L1143.5,772.1 L1144.0,773.0 L1144.5,773.1 L1145.0,772.5 L1145.5,771.2 L1146.0,769.2 L1146.5,766.5 L1147.0,763.1 L1147.5,759.0 L1148.0,754.3 L1148.5,748.9 L1149.0,742.9 L1149.5,736.2 L1150.0,728.9 L1150.5,721.0 L1151.0,712.6 L1151.5,703.6 L1152.0,694.1 L1152.5,684.0 L1153.0,673.5 L1153.5,662.5 L1154.0,651.1 L1154.5,639.3 L1155.0,627.2 L1155.5,614.7 L1156.0,601.8 L1156.5,588.8 L1157.0,575.4 L1157.5,561.9 L1158.0,548.2 L1158.5,534.3 L1159.0,520.4 L1159.5,506.3 L1160.0,492.3 L1160.5,478.2 L1161.0,464.2 L1161.5,450.3 L1162.0,436.4 L1162.5,422.7 L1163.0,409.2 L1163.5,395.9 L1164.0,382.9 L1164.5,370.1 L1165.0,357.6 L1165.5,345.5 L1166.0,333.7 L1166.5,322.4 L1167.0,311.5 L1167.5,301.0 L1168.0,291.0 L1168.5,281.5 L1169.0,272.6 L1169.5,264.2 L1170.0,256.4 L1170.5,249.2 L1171.0,242.6 L1171.5,236.7 L1172.0,231.4 L1172.5,226.7 L1173.0,222.8 L1173.5,219.5 L1174.0,216.9 L1174.5,215.0 L1175.0,213.8 L1175.5,213.3 L1176.0,213.6 L1176.5,214.7 L1177.0,216.6 L1177.5,219.2 L1178.0,222.6 L1178.5,226.7 L1179.0,231.6 L1179.5,237.2 L1180.0,243.5 L1180.5,250.4 L1181.0,258.1 L1181.5,266.4 L1182.0,275.3 L1182.5,284.8 L1183.0,294.9 L1183.5,305.6 L1184.0,316.7 L1184.5,328.4 L1185.0,340.5 L1185.5,353.0 L1186.0,365.9 L1186.5,379.2 L1187.0,392.8 L1187.5,406.7 L1188.0,420.8 L1188.5,435.1 L1189.0,449.6 L1189.5,464.2 L1190.0,478.9 L1190.5,493.6 L1191.0,508.3 L1191.5,523.1 L1192.0,537.7 L1192.5,552.2 L1193.0,566.6 L1193.5,580.7 L1194.0,594.7 L1194.5,608.3 L1195.0,621.7 L1195.5,634.7 L1196.0,647.3 L1196.5,659.6 L1197.0,671.3 L1197.5,682.6 L1198.0,693.4 L1198.5,703.7 L1199.0,713.3 L1199.5,722.4 L1200.0,730.9 L1200.5,738.7 L1201.0,745.9 L1201.5,752.4 L1202.0,758.2 L1202.5,763.2 L1203.0,767.6 L1203.5,771.2 L1204.0,774.1 L1204.5,776.2 L1205.0,777.5 L1205.5,778.1 L1206.0,777.9 L1206.5,777.0 L1207.0,775.4 L1207.5,773.2 L1208.0,770.2 L1208.5,766.6 L1209.0,762.2 L1209.5,757.3 L1210.0,751.6 L1210.5,745.4 L1211.0,738.5 L1211.5,731.0 L1212.0,722.9 L1212.5,714.3 L1213.0,705.1 L1213.5,695.5 L1214.0,685.3 L1214.5,674.7 L1215.0,663.6 L1215.5,652.1 L1216.0,640.2 L1216.5,628.0 L1217.0,615.5 L1217.5,602.7 L1218.0,589.6 L1218.5,576.3 L1219.0,562.8 L1219.5,549.2 L1220.0,535.4 L1220.5,521.6 L1221.0,507.7 L1221.5,493.8 L1222.0,479.9 L1222.5,466.1 L1223.0,452.3 L1223.5,438.7 L1224.0,425.2 L1224.5,412.0 L1225.0,399.0 L1225.5,386.2 L1226.0,373.7 L1226.5,361.5 L1227.0,349.7 L1227.5,338.3 L1228.0,327.3 L1228.5,316.8 L1229.0,306.7 L1229.5,297.1 L1230.0,288.0 L1230.5,279.4 L1231.0,271.5 L1231.5,264.1 L1232.0,257.3 L1232.5,251.1 L1233.0,245.5 L1233.5,240.7 L1234.0,236.4 L1234.5,232.8 L1235.0,230.0 L1235.5,227.8 L1236.0,226.3 L1236.5,225.4 L1237.0,225.3 L1237.5,225.9 L1238.0,227.2 L1238.5,229.2 L1239.0,232.0 L1239.5,235.6 L1240.0,239.8 L1240.5,244.8 L1241.0,250.5 L1241.5,256.9 L1242.0,263.9 L1242.5,271.6 L1243.0,279.9 L1243.5,288.9 L1244.0,298.4 L1244.5,308.5 L1245.0,319.1 L1245.5,330.2 L1246.0,341.8 L1246.5,353.8 L1247.0,366.2 L1247.5,379.0 L1248.0,392.2 L1248.5,405.6 L1249.0,419.4 L1249.5,433.3 L1250.0,447.4 L1250.5,461.7 L1251.0,476.1 L1251.5,490.6 L1252.0,505.1 L1252.5,519.6 L1253.0,534.1 L1253.5,548.5 L1254.0,562.8 L1254.5,576.9 L1255.0,590.8 L1255.5,604.5 L1256.0,617.9 L1256.5,631.0 L1257.0,643.7 L1257.5,656.1 L1258.0,668.0 L1258.5,679.5 L1259.0,690.6 L1259.5,701.1 L1260.0,711.1 L1260.5,720.5 L1261.0,729.3 L1261.5,737.6 L1262.0,745.2 L1262.5,752.1 L1263.0,758.3 L1263.5,763.9 L1264.0,768.8 L1264.5,772.9 L1265.0,776.3 L1265.5,779.0 L1266.0,780.9 L1266.5,782.1 L1267.0,782.5 L1267.5,782.2 L1268.0,781.2 L1268.5,779.5 L1269.0,777.1 L1269.5,774.0 L1270.0,770.2 L1270.5,765.7 L1271.0,760.6 L1271.5,754.8 L1272.0,748.4 L1272.5,741.4 L1273.0,733.8 L1273.5,725.6 L1274.0,716.8 L1274.5,707.5 L1275.0,697.7 L1275.5,687.4 L1276.0,676.7 L1276.5,665.5 L1277.0,653.9 L1277.5,641.9 L1278.0,629.5 L1278.5,616.9 L1279.0,604.0 L1279.5,590.8 L1280.0,577.4 L1280.5,563.8 L1281.0,550.1 L1281.5,536.2 L1282.0,522.3 L1282.5,508.3 L1283.0,494.4 L1283.5,480.4 L1284.0,466.5 L1284.5,452.7 L1285.0,439.1 L1285.5,425.6 L1286.0,412.3 L1286.5,399.3 L1287.0,386.5 L1287.5,374.0 L1288.0,361.8 L1288.5,350.1 L1289.0,338.7 L1289.5,327.7 L1290.0,317.2 L1290.5,307.2 L1291.0,297.6 L1291.5,288.6 L1292.0,280.2 L1292.5,272.3 L1293.0,265.0 L1293.5,258.3 L1294.0,252.3 L1294.5,246.9 L1295.0,242.1 L1295.5,238.0 L1296.0,234.6 L1296.5,231.9 L1297.0,229.9 L1297.5,228.6 L1298.0,227.9 L1298.5,228.0 L1299.0,228.9 L1299.5,230.4 L1300.0,232.7 L1300.5,235.7 L1301.0,239.4 L1301.5,243.9 L1302.0,249.0 L1302.5,254.8 L1303.0,261.3 L1303.5,268.5 L1304.0,276.3 L1304.5,284.6 L1305.0,293.6 L1305.5,303.2 L1306.0,313.3 L1306.5,323.9 L1307.0,335.0 L1307.5,346.5 L1308.0,358.5 L1308.5,370.8 L1309.0,383.6 L1309.5,396.6 L1310.0,410.0 L1310.5,423.6 L1311.0,437.5 L1311.5,451.5 L1312.0,465.7 L1312.5,479.9 L1313.0,494.3 L1313.5,508.7 L1314.0,523.1 L1314.5,537.5 L1315.0,551.7 L1315.5,565.9 L1316.0,579.9 L1316.5,593.7 L1317.0,607.3 L1317.5,620.7 L1318.0,633.7 L1318.5,646.4 L1319.0,658.7 L1319.5,670.6 L1320.0,682.2 L1320.5,693.2 L1321.0,703.7 L1321.5,713.8 L1322.0,723.3 L1322.5,732.2 L1323.0,740.5 L1323.5,748.2 L1324.0,755.3 L1324.5,761.7 L1325.0,767.4 L1325.5,772.5 L1326.0,776.8 L1326.5,780.5 L1327.0,783.4 L1327.5,785.6 L1328.0,787.0 L1328.5,787.7 L1329.0,787.7 L1329.5,786.9 L1330.0,785.4 L1330.5,783.2 L1331.0,780.3 L1331.5,776.7 L1332.0,772.5 L1332.5,767.6 L1333.0,762.0 L1333.5,755.8 L1334.0,749.0 L1334.5,741.6 L1335.0,733.5 L1335.5,725.0 L1336.0,715.8 L1336.5,706.2 L1337.0,696.0 L1337.5,685.4 L1338.0,674.3 L1338.5,662.8 L1339.0,650.9 L1339.5,638.7 L1340.0,626.1 L1340.5,613.3 L1341.0,600.1 L1341.5,586.8 L1342.0,573.2 L1342.5,559.5 L1343.0,545.6 L1343.5,531.7 L1344.0,517.7 L1344.5,503.6 L1345.0,489.6 L1345.5,475.7 L1346.0,461.8 L1346.5,448.0 L1347.0,434.4 L1347.5,420.9 L1348.0,407.7 L1348.5,394.8 L1349.0,382.1 L1349.5,369.7 L1350.0,357.7 L1350.5,346.1 L1351.0,334.9 L1351.5,324.1 L1352.0,313.7 L1352.5,303.9 L1353.0,294.6 L1353.5,285.8 L1354.0,277.6 L1354.5,269.9 L1355.0,262.9 L1355.5,256.5 L1356.0,250.7 L1356.5,245.5 L1357.0,241.0 L1357.5,237.2 L1358.0,234.1 L1358.5,231.6 L1359.0,229.9 L1359.5,228.8 L1360.0,228.5 L1360.5,228.9 L1361.0,230.0 L1361.5,231.9 L1362.0,234.6 L1362.5,238.0 L1363.0,242.1 L1363.5,247.0 L1364.0,252.6 L1364.5,258.8 L1365.0,265.8 L1365.5,273.4 L1366.0,281.7 L1366.5,290.6 L1367.0,300.1 L1367.5,310.1 L1368.0,320.7 L1368.5,331.8 L1369.0,343.4 L1369.5,355.5 L1370.0,367.9 L1370.5,380.7 L1371.0,393.9 L1371.5,407.4 L1372.0,421.2 L1372.5,435.2 L1373.0,449.4 L1373.5,463.7 L1374.0,478.2 L1374.5,492.8 L1375.0,507.4 L1375.5,522.0 L1376.0,536.5 L1376.5,551.0 L1377.0,565.4 L1377.5,579.6 L1378.0,593.6 L1378.5,607.3 L1379.0,620.8 L1379.5,634.0 L1380.0,646.8 L1380.5,659.3 L1381.0,671.3 L1381.5,682.9 L1382.0,694.0 L1382.5,704.6 L1383.0,714.6 L1383.5,724.1 L1384.0,733.0 L1384.5,741.2 L1385.0,748.8 L1385.5,755.8 L1386.0,762.1 L1386.5,767.7 L1387.0,772.5 L1387.5,776.7 L1388.0,780.1 L1388.5,782.7 L1389.0,784.6 L1389.5,785.7 L1390.0,786.1 L1390.5,785.8 L1391.0,784.7 L1391.5,783.0 L1392.0,780.5 L1392.5,777.4 L1393.0,773.5 L1393.5,769.0 L1394.0,763.8 L1394.5,757.9 L1395.0,751.5 L1395.5,744.3 L1396.0,736.6 L1396.5,728.3 L1397.0,719.4 L1397.5,710.0 L1398.0,700.1 L1398.5,689.7 L1399.0,678.8 L1399.5,667.5 L1400.0,655.7 L1400.5,643.6 L1401.0,631.1 L1401.5,618.3 L1402.0,605.3 L1402.5,591.9 L1403.0,578.4 L1403.5,564.7 L1404.0,550.8 L1404.5,536.8 L1405.0,522.7 L1405.5,508.6 L1406.0,494.5 L1406.5,480.5 L1407.0,466.4 L1407.5,452.5 L1408.0,438.8 L1408.5,425.2 L1409.0,411.8 L1409.5,398.6 L1410.0,385.8 L1410.5,373.2 L1411.0,361.0 L1411.5,349.1 L1412.0,337.7 L1412.5,326.7 L1413.0,316.1 L1413.5,306.0 L1414.0,296.5 L1414.5,287.4 L1415.0,279.0 L1415.5,271.1 L1416.0,263.8 L1416.5,257.2 L1417.0,251.1 L1417.5,245.8 L1418.0,241.1 L1418.5,237.0 L1419.0,233.7 L1419.5,231.1 L1420.0,229.1 L1420.5,227.9 L1421.0,227.4 L1421.5,227.6 L1422.0,228.6 L1422.5,230.4 L1423.0,232.9 L1423.5,236.1 L1424.0,240.0 L1424.5,244.7 L1425.0,250.1 L1425.5,256.2 L1426.0,263.0 L1426.5,270.5 L1427.0,278.5 L1427.5,287.2 L1428.0,296.5 L1428.5,306.4 L1429.0,316.8 L1429.5,327.7 L1430.0,339.2 L1430.5,351.0 L1431.0,363.3 L1431.5,376.0 L1432.0,389.1 L1432.5,402.4 L1433.0,416.1 L1433.5,430.0 L1434.0,444.1 L1434.5,458.4 L1435.0,472.8 L1435.5,487.4 L1436.0,501.9 L1436.5,516.5 L1437.0,531.1 L1437.5,545.6 L1438.0,560.0 L1438.5,574.3 L1439.0,588.4 L1439.5,602.2 L1440.0,615.8 L1440.5,629.2 L1441.0,642.2 L1441.5,654.8 L1442.0,667.0 L1442.5,678.9 L1443.0,690.2 L1443.5,701.1 L1444.0,711.4 L1444.5,721.2 L1445.0,730.4 L1445.5,739.0 L1446.0,747.0 L1446.5,754.3 L1447.0,761.0 L1447.5,767.0 L1448.0,772.3 L1448.5,776.9 L1449.0,780.7 L1449.5,783.8 L1450.0,786.2 L1450.5,787.8 L1451.0,788.7 L1451.5,788.7 L1452.0,788.0 L1452.5,786.6 L1453.0,784.4 L1453.5,781.5 L1454.0,777.9 L1454.5,773.6 L1455.0,768.6 L1455.5,762.9 L1456.0,756.5 L1456.5,749.5 L1457.0,741.9 L1457.5,733.6 L1458.0,724.8 L1458.5,715.4 L1459.0,705.4 L1459.5,694.9 L1460.0,684.0 L1460.5,672.6 L1461.0,660.7 L1461.5,648.5 L1462.0,635.9 L1462.5,622.9 L1463.0,609.7 L1463.5,596.2 L1464.0,582.5 L1464.5,568.5 L1465.0,554.5 L1465.5,540.2 L1466.0,526.0 L1466.5,511.6 L1467.0,497.3 L1467.5,483.0 L1468.0,468.7 L1468.5,454.6 L1469.0,440.6 L1469.5,426.7 L1470.0,413.1 L1470.5,399.7 L1471.0,386.7 L1471.5,373.9 L1472.0,361.5 L1472.5,349.4 L1473.0,337.8 L1473.5,326.7 L1474.0,316.0 L1474.5,305.8 L1475.0,296.1 L1475.5,287.0 L1476.0,278.4 L1476.5,270.5 L1477.0,263.2 L1477.5,256.5 L1478.0,250.5 L1478.5,245.1 L1479.0,240.5 L1479.5,236.5 L1480.0,233.2 L1480.5,230.7 L1481.0,228.9 L1481.5,227.8 L1482.0,227.4 L1482.5,227.7 L1483.0,228.7 L1483.5,230.5 L1484.0,232.9 L1484.5,236.1 L1485.0,239.9 L1485.5,244.5 L1486.0,249.7 L1486.5,255.5 L1487.0,262.0 L1487.5,269.2 L1488.0,276.9 L1488.5,285.2 L1489.0,294.1 L1489.5,303.6 L1490.0,313.5 L1490.5,324.0 L1491.0,334.9 L1491.5,346.2 L1492.0,358.0 L1492.5,370.1 L1493.0,382.6 L1493.5,395.4 L1494.0,408.5 L1494.5,421.8 L1495.0,435.4 L1495.5,449.1 L1496.0,463.0 L1496.5,477.0 L1497.0,491.0 L1497.5,505.1 L1498.0,519.2 L1498.5,533.2 L1499.0,547.2 L1499.5,561.1 L1500.0,574.8 L1500.5,588.3 L1501.0,601.6 L1501.5,614.7 L1502.0,627.5 L1502.5,640.0 L1503.0,652.1 L1503.5,663.9 L1504.0,675.2 L1504.5,686.1 L1505.0,696.6 L1505.5,706.5 L1506.0,715.9 L1506.5,724.8 L1507.0,733.1 L1507.5,740.8 L1508.0,748.0 L1508.5,754.5 L1509.0,760.3 L1509.5,765.5 L1510.0,770.0 L1510.5,773.9 L1511.0,777.0 L1511.5,779.4 L1512.0,781.2 L1512.5,782.2 L1513.0,782.5 L1513.5,782.1 L1514.0,781.0 L1514.5,779.1 L1515.0,776.4 L1515.5,773.1 L1516.0,769.0 L1516.5,764.2 L1517.0,758.7 L1517.5,752.5 L1518.0,745.6 L1518.5,738.1 L1519.0,730.0 L1519.5,721.2 L1520.0,711.9 L1520.5,702.0 L1521.0,691.6 L1521.5,680.6 L1522.0,669.2 L1522.5,657.3 L1523.0,645.1 L1523.5,632.4 L1524.0,619.4 L1524.5,606.1 L1525.0,592.4 L1525.5,578.6 L1526.0,564.5 L1526.5,550.3 L1527.0,536.0 L1527.5,521.5 L1528.0,507.0 L1528.5,492.5 L1529.0,478.1 L1529.5,463.7 L1530.0,449.3 L1530.5,435.2 L1531.0,421.2 L1531.5,407.4 L1532.0,393.9 L1532.5,380.7 L1533.0,367.8 L1533.5,355.2 L1534.0,343.1 L1534.5,331.4 L1535.0,320.1 L1535.5,309.4 L1536.0,299.1 L1536.5,289.4 L1537.0,280.3 L1537.5,271.7 L1538.0,263.8 L1538.5,256.5 L1539.0,249.9 L1539.5,243.9 L1540.0,238.7 L1540.5,234.1 L1541.0,230.3 L1541.5,227.2 L1542.0,224.8 L1542.5,223.2 L1543.0,222.4 L1543.5,222.3 L1544.0,222.9 L1544.5,224.3 L1545.0,226.4 L1545.5,229.2 L1546.0,232.8 L1546.5,237.0 L1547.0,242.0 L1547.5,247.6 L1548.0,253.9 L1548.5,260.9 L1549.0,268.5 L1549.5,276.7 L1550.0,285.5 L1550.5,294.9 L1551.0,304.8 L1551.5,315.3 L1552.0,326.2 L1552.5,337.6 L1553.0,349.4 L1553.5,361.6 L1554.0,374.2 L1554.5,387.1 L1555.0,400.3 L1555.5,413.8 L1556.0,427.5 L1556.5,441.5 L1557.0,455.5 L1557.5,469.7 L1558.0,484.0 L1558.5,498.3 L1559.0,512.6 L1559.5,526.9 L1560.0,541.2 L1560.5,555.3 L1561.0,569.3 L1561.5,583.1 L1562.0,596.7 L1562.5,610.0 L1563.0,623.0 L1563.5,635.8 L1564.0,648.1 L1564.5,660.1 L1565.0,671.7 L1565.5,682.8 L1566.0,693.4 L1566.5,703.5 L1567.0,713.1 L1567.5,722.2 L1568.0,730.6 L1568.5,738.4 L1569.0,745.7 L1569.5,752.2 L1570.0,758.1 L1570.5,763.4 L1571.0,767.9 L1571.5,771.8 L1572.0,774.9 L1572.5,777.3 L1573.0,778.9 L1573.5,779.9 L1574.0,780.1 L1574.5,779.5 L1575.0,778.2 L1575.5,776.2 L1576.0,773.4 L1576.5,770.0 L1577.0,765.8 L1577.5,760.9 L1578.0,755.4 L1578.5,749.2 L1579.0,742.3 L1579.5,734.8 L1580.0,726.7 L1580.5,718.0 L1581.0,708.8 L1581.5,699.0 L1582.0,688.6 L1582.5,677.8 L1583.0,666.5 L1583.5,654.8 L1584.0,642.7 L1584.5,630.2 L1585.0,617.3 L1585.5,604.2 L1586.0,590.8 L1586.5,577.1 L1587.0,563.3 L1587.5,549.3 L1588.0,535.1 L1588.5,520.9 L1589.0,506.6 L1589.5,492.3 L1590.0,478.0 L1590.5,463.8 L1591.0,449.7 L1591.5,435.7 L1592.0,421.8 L1592.5,408.2 L1593.0,394.8 L1593.5,381.7 L1594.0,368.9 L1594.5,356.4 L1595.0,344.3 L1595.5,332.7 L1596.0,321.4 L1596.5,310.6 L1597.0,300.4 L1597.5,290.6 L1598.0,281.4 L1598.5,272.7 L1599.0,264.7 L1599.5,257.3 L1600.0,250.5 L1600.5,244.3 L1601.0,238.8 L1601.5,234.0 L1602.0,229.9 L1602.5,226.5 L1603.0,223.8 L1603.5,221.8 L1604.0,220.5 L1604.5,220.0 L1605.0,220.2 L1605.5,221.1 L1606.0,222.7 L1606.5,225.0 L1607.0,228.1 L1607.5,231.8 L1608.0,236.3 L1608.5,241.5 L1609.0,247.3 L1609.5,253.8 L1610.0,260.9 L1610.5,268.7 L1611.0,277.1 L1611.5,286.0 L1612.0,295.5 L1612.5,305.5 L1613.0,316.1 L1613.5,327.1 L1614.0,338.6 L1614.5,350.4 L1615.0,362.7 L1615.5,375.3 L1616.0,388.3 L1616.5,401.5 L1617.0,415.0 L1617.5,428.7 L1618.0,442.6 L1618.5,456.6 L1619.0,470.8 L1619.5,484.9 L1620.0,499.2 L1620.5,513.4 L1621.0,527.6 L1621.5,541.7 L1622.0,555.7 L1622.5,569.5 L1623.0,583.1 L1623.5,596.5 L1624.0,609.6 L1624.5,622.5 L1625.0,635.0 L1625.5,647.1 L1626.0,658.8 L1626.5,670.2 L1627.0,681.0 L1627.5,691.4 L1628.0,701.2 L1628.5,710.5 L1629.0,719.2 L1629.5,727.4 L1630.0,734.9 L1630.5,741.8 L1631.0,748.1 L1631.5,753.7 L1632.0,758.6 L1632.5,762.8 L1633.0,766.3 L1633.5,769.1 L1634.0,771.1 L1634.5,772.5 L1635.0,773.1 L1635.5,773.0 L1636.0,772.2 L1636.5,770.6 L1637.0,768.4 L1637.5,765.5 L1638.0,761.9 L1638.5,757.6 L1639.0,752.6 L1639.5,747.0 L1640.0,740.7 L1640.5,733.8 L1641.0,726.3 L1641.5,718.2 L1642.0,709.5 L1642.5,700.2 L1643.0,690.5 L1643.5,680.2 L1644.0,669.5 L1644.5,658.3 L1645.0,646.6 L1645.5,634.6 L1646.0,622.2 L1646.5,609.5 L1647.0,596.5 L1647.5,583.3 L1648.0,569.7 L1648.5,556.0 L1649.0,542.2 L1649.5,528.2 L1650.0,514.1 L1650.5,500.0 L1651.0,485.8 L1651.5,471.7 L1652.0,457.6 L1652.5,443.6 L1653.0,429.7 L1653.5,415.9 L1654.0,402.4 L1654.5,389.1 L1655.0,376.1 L1655.5,363.3 L1656.0,350.9 L1656.5,338.8 L1657.0,327.2 L1657.5,315.9 L1658.0,305.1 L1658.5,294.8 L1659.0,284.9 L1659.5,275.6 L1660.0,266.9 L1660.5,258.7 L1661.0,251.1 L1661.5,244.2 L1662.0,237.8 L1662.5,232.1 L1663.0,227.1 L1663.5,222.7 L1664.0,219.1 L1664.5,216.1 L1665.0,213.8 L1665.5,212.2 L1666.0,211.4 L1666.5,211.2 L1667.0,211.9 L1667.5,213.2 L1668.0,215.3 L1668.5,218.1 L1669.0,221.6 L1669.5,225.8 L1670.0,230.7 L1670.5,236.3 L1671.0,242.5 L1671.5,249.5 L1672.0,257.0 L1672.5,265.2 L1673.0,273.9 L1673.5,283.2 L1674.0,293.1 L1674.5,303.5 L1675.0,314.3 L1675.5,325.7 L1676.0,337.4 L1676.5,349.6 L1677.0,362.1 L1677.5,375.0 L1678.0,388.2 L1678.5,401.6 L1679.0,415.3 L1679.5,429.2 L1680.0,443.2 L1680.5,457.4 L1681.0,471.7 L1681.5,486.0 L1682.0,500.3 L1682.5,514.6 L1683.0,528.8 L1683.5,542.9 L1684.0,556.9 L1684.5,570.8 L1685.0,584.4 L1685.5,597.7 L1686.0,610.8 L1686.5,623.6 L1687.0,636.0 L1687.5,648.0 L1688.0,659.7 L1688.5,670.8 L1689.0,681.5 L1689.5,691.8 L1690.0,701.4 L1690.5,710.6 L1691.0,719.1 L1691.5,727.1 L1692.0,734.4 L1692.5,741.1 L1693.0,747.1 L1693.5,752.4 L1694.0,757.1 L1694.5,761.1 L1695.0,764.3 L1695.5,766.9 L1696.0,768.7 L1696.5,769.8 L1697.0,770.1 L1697.5,769.7 L1698.0,768.6 L1698.5,766.8 L1699.0,764.2 L1699.5,760.9 L1700.0,756.9 L1700.5,752.2 L1701.0,746.8 L1701.5,740.7 L1702.0,734.0 L1702.5,726.6 L1703.0,718.5 L1703.5,709.9 L1704.0,700.7 L1704.5,690.9 L1705.0,680.6 L1705.5,669.8 L1706.0,658.4 L1706.5,646.7 L1707.0,634.5 L1707.5,622.0 L1708.0,609.1 L1708.5,595.8 L1709.0,582.3 L1709.5,568.5 L1710.0,554.6 L1710.5,540.4 L1711.0,526.1 L1711.5,511.7 L1712.0,497.3 L1712.5,482.8 L1713.0,468.3 L1713.5,453.9 L1714.0,439.5 L1714.5,425.3 L1715.0,411.3 L1715.5,397.4 L1716.0,383.8 L1716.5,370.5 L1717.0,357.5 L1717.5,344.8 L1718.0,332.5 L1718.5,320.6 L1719.0,309.1 L1719.5,298.1 L1720.0,287.6 L1720.5,277.6 L1721.0,268.2 L1721.5,259.4 L1722.0,251.2 L1722.5,243.5 L1723.0,236.6 L1723.5,230.3 L1724.0,224.6 L1724.5,219.7 L1725.0,215.5 L1725.5,211.9 L1726.0,209.2 L1726.5,207.1 L1727.0,205.8 L1727.5,205.2 L1728.0,205.4 L1728.5,206.4 L1729.0,208.1 L1729.5,210.5 L1730.0,213.6 L1730.5,217.4 L1731.0,221.9 L1731.5,227.1 L1732.0,233.0 L1732.5,239.6 L1733.0,246.8 L1733.5,254.6 L1734.0,263.0 L1734.5,272.0 L1735.0,281.6 L1735.5,291.6 L1736.0,302.2 L1736.5,313.3 L1737.0,324.9 L1737.5,336.8 L1738.0,349.2 L1738.5,361.9 L1739.0,374.9 L1739.5,388.2 L1740.0,401.8 L1740.5,415.6 L1741.0,429.6 L1741.5,443.8 L1742.0,458.0 L1742.5,472.4 L1743.0,486.7 L1743.5,501.1 L1744.0,515.5 L1744.5,529.8 L1745.0,543.9 L1745.5,558.0 L1746.0,571.8 L1746.5,585.5 L1747.0,598.8 L1747.5,611.9 L1748.0,624.7 L1748.5,637.2 L1749.0,649.2 L1749.5,660.8 L1750.0,672.0 L1750.5,682.7 L1751.0,692.9 L1751.5,702.6 L1752.0,711.8 L1752.5,720.3 L1753.0,728.3 L1753.5,735.6 L1754.0,742.3 L1754.5,748.3 L1755.0,753.7 L1755.5,758.4 L1756.0,762.3 L1756.5,765.6 L1757.0,768.2 L1757.5,770.0 L1758.0,771.1 L1758.5,771.5 L1759.0,771.1 L1759.5,770.0 L1760.0,768.1 L1760.5,765.5 L1761.0,762.2 L1761.5,758.1 L1762.0,753.3 L1762.5,747.8 L1763.0,741.6 L1763.5,734.8 L1764.0,727.3 L1764.5,719.1 L1765.0,710.4 L1765.5,701.0 L1766.0,691.1 L1766.5,680.7 L1767.0,669.7 L1767.5,658.3" stroke="#000" stroke-width="3.8"/>
<path d="M205.5,413.2 L206.0,428.4 L206.5,443.8 L207.0,459.4 L207.5,475.0 L208.0,490.7 L208.5,506.3 L209.0,521.9 L209.5,537.5 L210.0,552.9 L210.5,568.1 L211.0,583.1 L211.5,597.8 L212.0,612.2 L212.5,626.3 L213.0,640.0 L213.5,653.3 L214.0,666.1 L214.5,678.4 L215.0,690.2 L215.5,701.4 L216.0,712.0 L216.5,722.0 L217.0,731.4 L217.5,740.1 L218.0,748.1 L218.5,755.3 L219.0,761.8 L219.5,767.6 L220.0,772.5 L220.5,776.7 L221.0,780.1 L221.5,782.7 L222.0,784.4 L222.5,785.3 L223.0,785.4 L223.5,784.7 L224.0,783.3 L224.5,781.2 L225.0,778.4 L225.5,774.9 L226.0,770.7 L226.5,765.7 L227.0,760.1 L227.5,753.9 L228.0,746.9 L228.5,739.4 L229.0,731.2 L229.5,722.4 L230.0,713.1 L230.5,703.2 L231.0,692.8 L231.5,681.9 L232.0,670.5 L232.5,658.7 L233.0,646.5 L233.5,633.8 L234.0,620.8 L234.5,607.5 L235.0,593.9 L235.5,580.1 L236.0,566.0 L236.5,551.7 L237.0,537.3 L237.5,522.7 L238.0,508.1 L238.5,493.5 L239.0,478.8 L239.5,464.1 L240.0,449.5 L240.5,435.0 L241.0,420.7 L241.5,406.5 L242.0,392.5 L242.5,378.7 L243.0,365.2 L243.5,352.0 L244.0,339.2 L244.5,326.7 L245.0,314.6 L245.5,303.0 L246.0,291.8 L246.5,281.1 L247.0,270.9 L247.5,261.2 L248.0,252.1 L248.5,243.6 L249.0,235.7 L249.5,228.4 L250.0,221.7 L250.5,215.7 L251.0,210.4 L251.5,205.7 L252.0,201.8 L252.5,198.6 L253.0,196.0 L253.5,194.2 L254.0,193.1 L254.5,192.8 L255.0,193.3 L255.5,194.7 L256.0,196.9 L256.5,199.8 L257.0,203.6 L257.5,208.1 L258.0,213.4 L258.5,219.4 L259.0,226.1 L259.5,233.6 L260.0,241.7 L260.5,250.5 L261.0,260.0 L261.5,270.0 L262.0,280.7 L262.5,291.9 L263.0,303.7 L263.5,315.9 L264.0,328.6 L264.5,341.7 L265.0,355.3 L265.5,369.2 L266.0,383.4 L266.5,397.9 L267.0,412.6 L267.5,427.6 L268.0,442.7 L268.5,457.9 L269.0,473.2 L269.5,488.5 L270.0,503.9 L270.5,519.2 L271.0,534.4 L271.5,549.5 L272.0,564.5 L272.5,579.2 L273.0,593.7 L273.5,607.9 L274.0,621.7 L274.5,635.3 L275.0,648.4 L275.5,661.1 L276.0,673.3 L276.5,685.1 L277.0,696.3 L277.5,706.9 L278.0,717.0 L278.5,726.4 L279.0,735.3 L279.5,743.4 L280.0,750.9 L280.5,757.7 L281.0,763.7 L281.5,769.1 L282.0,773.7 L282.5,777.5 L283.0,780.5 L283.5,782.8 L284.0,784.3 L284.5,785.0 L285.0,785.1 L285.5,784.5 L286.0,783.2 L286.5,781.2 L287.0,778.5 L287.5,775.1 L288.0,770.9 L288.5,766.1 L289.0,760.7 L289.5,754.5 L290.0,747.7 L290.5,740.3 L291.0,732.3 L291.5,723.7 L292.0,714.5 L292.5,704.8 L293.0,694.6 L293.5,683.9 L294.0,672.7 L294.5,661.1 L295.0,649.1 L295.5,636.7 L296.0,623.9 L296.5,610.9 L297.0,597.5 L297.5,583.9 L298.0,570.1 L298.5,556.2 L299.0,542.0 L299.5,527.8 L300.0,513.5 L300.5,499.2 L301.0,484.8 L301.5,470.5 L302.0,456.3 L302.5,442.2 L303.0,428.2 L303.5,414.4 L304.0,400.9 L304.5,387.5 L305.0,374.5 L305.5,361.8 L306.0,349.4 L306.5,337.4 L307.0,325.8 L307.5,314.7 L308.0,304.0 L308.5,293.8 L309.0,284.1 L309.5,275.0 L310.0,266.4 L310.5,258.5 L311.0,251.1 L311.5,244.4 L312.0,238.3 L312.5,232.9 L313.0,228.2 L313.5,224.1 L314.0,220.8 L314.5,218.1 L315.0,216.2 L315.5,215.0 L316.0,214.5 L316.5,214.7 L317.0,215.7 L317.5,217.5 L318.0,220.0 L318.5,223.4 L319.0,227.6 L319.5,232.5 L320.0,238.3 L320.5,244.7 L321.0,251.9 L321.5,259.9 L322.0,268.5 L322.5,277.8 L323.0,287.7 L323.5,298.3 L324.0,309.4 L324.5,321.1 L325.0,333.4 L325.5,346.1 L326.0,359.3 L326.5,372.9 L327.0,386.9 L327.5,401.3 L328.0,416.0 L328.5,430.9 L329.0,446.1 L329.5,461.4 L330.0,476.9 L330.5,492.5 L331.0,508.2 L331.5,523.9 L332.0,539.6 L332.5,555.2 L333.0,570.6 L333.5,586.0 L334.0,601.1 L334.5,616.0 L335.0,630.6 L335.5,644.9 L336.0,658.8 L336.5,672.3 L337.0,685.4 L337.5,698.0 L338.0,710.2 L338.5,721.7 L339.0,732.7 L339.5,743.1 L340.0,752.9 L340.5,762.0 L341.0,770.4 L341.5,778.2 L342.0,785.1 L342.5,791.4 L343.0,796.9 L343.5,801.6 L344.0,805.5 L344.5,808.6 L345.0,810.8 L345.5,812.3 L346.0,813.0 L346.5,812.6 L347.0,811.4 L347.5,809.6 L348.0,807.0 L348.5,803.7 L349.0,799.7 L349.5,795.0 L350.0,789.7 L350.5,783.6 L351.0,776.9 L351.5,769.6 L352.0,761.6 L352.5,753.1 L353.0,743.9 L353.5,734.2 L354.0,724.0 L354.5,713.3 L355.0,702.1 L355.5,690.4 L356.0,678.3 L356.5,665.8 L357.0,653.0 L357.5,639.8 L358.0,626.3 L358.5,612.6 L359.0,598.6 L359.5,584.5 L360.0,570.1 L360.5,555.7 L361.0,541.1 L361.5,526.5 L362.0,511.9 L362.5,497.2 L363.0,482.7 L363.5,468.2 L364.0,453.9 L364.5,439.7 L365.0,425.7 L365.5,411.9 L366.0,398.4 L366.5,385.2 L367.0,372.3 L367.5,359.7 L368.0,347.6 L368.5,335.9 L369.0,324.6 L369.5,313.8 L370.0,303.5 L370.5,293.7 L371.0,284.5 L371.5,275.8 L372.0,267.8 L372.5,260.3 L373.0,253.5 L373.5,247.3 L374.0,241.8 L374.5,237.0 L375.0,232.9 L375.5,229.4 L376.0,226.7 L376.5,224.7 L377.0,223.4 L377.5,222.8 L378.0,222.9 L378.5,223.7 L379.0,225.4 L379.5,228.0 L380.0,231.3 L380.5,235.5 L381.0,240.5 L381.5,246.2 L382.0,252.8 L382.5,260.0 L383.0,268.1 L383.5,276.8 L384.0,286.2 L384.5,296.3 L385.0,307.0 L385.5,318.2 L386.0,330.1 L386.5,342.5 L387.0,355.4 L387.5,368.7 L388.0,382.5 L388.5,396.6 L389.0,411.1 L389.5,425.9 L390.0,441.0 L390.5,456.2 L391.0,471.7 L391.5,487.2 L392.0,502.9 L392.5,518.5 L393.0,534.2 L393.5,549.8 L394.0,565.3 L394.5,580.7 L395.0,595.9 L395.5,610.9 L396.0,625.6 L396.5,639.9 L397.0,654.0 L397.5,667.6 L398.0,680.8 L398.5,693.5 L399.0,705.7 L399.5,717.4 L400.0,728.5 L400.5,738.9 L401.0,748.8 L401.5,757.9 L402.0,766.4 L402.5,774.2 L403.0,781.2 L403.5,787.5 L404.0,792.9 L404.5,797.6 L405.0,801.5 L405.5,804.6 L406.0,806.8 L406.5,808.2 L407.0,808.7 L407.5,808.4 L408.0,807.4 L408.5,805.7 L409.0,803.3 L409.5,800.2 L410.0,796.4 L410.5,792.0 L411.0,786.9 L411.5,781.2 L412.0,774.8 L412.5,767.9 L413.0,760.3 L413.5,752.2 L414.0,743.5 L414.5,734.2 L415.0,724.5 L415.5,714.2 L416.0,703.5 L416.5,692.3 L417.0,680.7 L417.5,668.8 L418.0,656.4 L418.5,643.7 L419.0,630.7 L419.5,617.5 L420.0,603.9 L420.5,590.2 L421.0,576.3 L421.5,562.3 L422.0,548.1 L422.5,533.8 L423.0,519.5 L423.5,505.2 L424.0,490.9 L424.5,476.6 L425.0,462.5 L425.5,448.4 L426.0,434.5 L426.5,420.8 L427.0,407.3 L427.5,394.0 L428.0,381.0 L428.5,368.3 L429.0,356.0 L429.5,344.0 L430.0,332.4 L430.5,321.2 L431.0,310.5 L431.5,300.3 L432.0,290.5 L432.5,281.3 L433.0,272.6 L433.5,264.4 L434.0,256.8 L434.5,249.9 L435.0,243.5 L435.5,237.7 L436.0,232.6 L436.5,228.2 L437.0,224.4 L437.5,221.3 L438.0,218.8 L438.5,217.0 L439.0,216.0 L439.5,215.5 L440.0,216.0 L440.5,217.3 L441.0,219.5 L441.5,222.5 L442.0,226.3 L442.5,230.9 L443.0,236.3 L443.5,242.6 L444.0,249.6 L444.5,257.3 L445.0,265.8 L445.5,274.9 L446.0,284.8 L446.5,295.2 L447.0,306.3 L447.5,318.0 L448.0,330.2 L448.5,342.9 L449.0,356.1 L449.5,369.7 L450.0,383.7 L450.5,398.1 L451.0,412.7 L451.5,427.7 L452.0,442.8 L452.5,458.1 L453.0,473.6 L453.5,489.2 L454.0,504.7 L454.5,520.3 L455.0,535.9 L455.5,551.3 L456.0,566.6 L456.5,581.7 L457.0,596.6 L457.5,611.2 L458.0,625.5 L458.5,639.5 L459.0,653.0 L459.5,666.1 L460.0,678.7 L460.5,690.9 L461.0,702.4 L461.5,713.4 L462.0,723.8 L462.5,733.6 L463.0,742.6 L463.5,751.0 L464.0,758.7 L464.5,765.6 L465.0,771.7 L465.5,777.1 L466.0,781.7 L466.5,785.4 L467.0,788.4 L467.5,790.5 L468.0,791.8 L468.5,792.3 L469.0,792.1 L469.5,791.2 L470.0,789.7 L470.5,787.4 L471.0,784.5 L471.5,780.9 L472.0,776.6 L472.5,771.7 L473.0,766.1 L473.5,759.8 L474.0,753.0 L474.5,745.5 L475.0,737.5 L475.5,728.9 L476.0,719.7 L476.5,710.0 L477.0,699.8 L477.5,689.2 L478.0,678.1 L478.5,666.5 L479.0,654.6 L479.5,642.3 L480.0,629.7 L480.5,616.8 L481.0,603.6 L481.5,590.1 L482.0,576.5 L482.5,562.7 L483.0,548.7 L483.5,534.6 L484.0,520.5 L484.5,506.3 L485.0,492.2 L485.5,478.0 L486.0,464.0 L486.5,450.0 L487.0,436.2 L487.5,422.5 L488.0,409.0 L488.5,395.8 L489.0,382.9 L489.5,370.2 L490.0,357.9 L490.5,345.9 L491.0,334.4 L491.5,323.2 L492.0,312.5 L492.5,302.3 L493.0,292.6 L493.5,283.3 L494.0,274.7 L494.5,266.6 L495.0,259.1 L495.5,252.2 L496.0,245.9 L496.5,240.2 L497.0,235.3 L497.5,230.9 L498.0,227.3 L498.5,224.3 L499.0,222.0 L499.5,220.4 L500.0,219.6 L500.5,219.4 L501.0,220.0 L501.5,221.5 L502.0,223.7 L502.5,226.8 L503.0,230.6 L503.5,235.2 L504.0,240.6 L504.5,246.8 L505.0,253.7 L505.5,261.3 L506.0,269.6 L506.5,278.6 L507.0,288.2 L507.5,298.4 L508.0,309.3 L508.5,320.7 L509.0,332.6 L509.5,345.0 L510.0,357.9 L510.5,371.2 L511.0,384.9 L511.5,398.9 L512.0,413.3 L512.5,427.9 L513.0,442.8 L513.5,457.8 L514.0,473.0 L514.5,488.3 L515.0,503.7 L515.5,519.1 L516.0,534.4 L516.5,549.7 L517.0,564.9 L517.5,579.9 L518.0,594.7 L518.5,609.3 L519.0,623.6 L519.5,637.5 L520.0,651.2 L520.5,664.4 L521.0,677.2 L521.5,689.5 L522.0,701.3 L522.5,712.6 L523.0,723.3 L523.5,733.4 L524.0,742.9 L524.5,751.8 L525.0,759.9 L525.5,767.4 L526.0,774.1 L526.5,780.1 L527.0,785.4 L527.5,789.8 L528.0,793.5 L528.5,796.4 L529.0,798.5 L529.5,799.8 L530.0,800.2 L530.5,800.0 L531.0,798.9 L531.5,797.2 L532.0,794.8 L532.5,791.6 L533.0,787.8 L533.5,783.3 L534.0,778.1 L534.5,772.2 L535.0,765.7 L535.5,758.6 L536.0,750.9 L536.5,742.5 L537.0,733.6 L537.5,724.2 L538.0,714.2 L538.5,703.7 L539.0,692.8 L539.5,681.4 L540.0,669.5 L540.5,657.3 L541.0,644.8 L541.5,631.9 L542.0,618.7 L542.5,605.3 L543.0,591.6 L543.5,577.7 L544.0,563.7 L544.5,549.5 L545.0,535.3 L545.5,521.0 L546.0,506.7 L546.5,492.4 L547.0,478.1 L547.5,464.0 L548.0,450.0 L548.5,436.1 L549.0,422.4 L549.5,409.0 L550.0,395.8 L550.5,382.9 L551.0,370.4 L551.5,358.2 L552.0,346.4 L552.5,335.0 L553.0,324.0 L553.5,313.6 L554.0,303.6 L554.5,294.1 L555.0,285.2 L555.5,276.9 L556.0,269.2 L556.5,262.1 L557.0,255.6 L557.5,249.7 L558.0,244.6 L558.5,240.0 L559.0,236.2 L559.5,233.1 L560.0,230.7 L560.5,228.9 L561.0,227.9 L561.5,227.7 L562.0,228.1 L562.5,229.4 L563.0,231.5 L563.5,234.4 L564.0,238.1 L564.5,242.5 L565.0,247.8 L565.5,253.8 L566.0,260.6 L566.5,268.1 L567.0,276.3 L567.5,285.1 L568.0,294.7 L568.5,304.8 L569.0,315.6 L569.5,326.9 L570.0,338.8 L570.5,351.2 L571.0,364.0 L571.5,377.3 L572.0,391.0 L572.5,405.0 L573.0,419.3 L573.5,434.0 L574.0,448.8 L574.5,463.9 L575.0,479.1 L575.5,494.4 L576.0,509.8 L576.5,525.2 L577.0,540.6 L577.5,555.9 L578.0,571.1 L578.5,586.2 L579.0,601.1 L579.5,615.7 L580.0,630.1 L580.5,644.1 L581.0,657.8 L581.5,671.1 L582.0,683.9 L582.5,696.3 L583.0,708.2 L583.5,719.5 L584.0,730.3 L584.5,740.5 L585.0,750.0 L585.5,758.9 L586.0,767.1 L586.5,774.6 L587.0,781.4 L587.5,787.4 L588.0,792.7 L588.5,797.2 L589.0,800.9 L589.5,803.8 L590.0,805.9 L590.5,807.2 L591.0,807.6 L591.5,807.2 L592.0,806.0 L592.5,804.1 L593.0,801.4 L593.5,798.0 L594.0,794.0 L594.5,789.2 L595.0,783.7 L595.5,777.6 L596.0,770.8 L596.5,763.3 L597.0,755.3 L597.5,746.6 L598.0,737.4 L598.5,727.6 L599.0,717.3 L599.5,706.5 L600.0,695.2 L600.5,683.5 L601.0,671.4 L601.5,658.8 L602.0,646.0 L602.5,632.8 L603.0,619.3 L603.5,605.6 L604.0,591.6 L604.5,577.5 L605.0,563.3 L605.5,548.9 L606.0,534.4 L606.5,520.0 L607.0,505.5 L607.5,491.1 L608.0,476.7 L608.5,462.5 L609.0,448.4 L609.5,434.5 L610.0,420.8 L610.5,407.4 L611.0,394.3 L611.5,381.4 L612.0,369.0 L612.5,356.9 L613.0,345.3 L613.5,334.1 L614.0,323.3 L614.5,313.1 L615.0,303.4 L615.5,294.3 L616.0,285.7 L616.5,277.7 L617.0,270.4 L617.5,263.6 L618.0,257.6 L618.5,252.2 L619.0,247.5 L619.5,243.4 L620.0,240.1 L620.5,237.5 L621.0,235.6 L621.5,234.4 L622.0,234.0 L622.5,234.1 L623.0,235.0 L623.5,236.6 L624.0,239.0 L624.5,242.2 L625.0,246.0 L625.5,250.6 L626.0,255.9 L626.5,261.9 L627.0,268.6 L627.5,276.0 L628.0,284.0 L628.5,292.6 L629.0,301.8 L629.5,311.6 L630.0,321.9 L630.5,332.8 L631.0,344.1 L631.5,355.9 L632.0,368.1 L632.5,380.7 L633.0,393.7 L633.5,407.0 L634.0,420.6 L634.5,434.5 L635.0,448.5 L635.5,462.8 L636.0,477.2 L636.5,491.7 L637.0,506.2 L637.5,520.8 L638.0,535.4 L638.5,549.9 L639.0,564.3 L639.5,578.5 L640.0,592.7 L640.5,606.6 L641.0,620.2 L641.5,633.6 L642.0,646.6 L642.5,659.3 L643.0,671.6 L643.5,683.5 L644.0,695.0 L644.5,705.9 L645.0,716.4 L645.5,726.3 L646.0,735.6 L646.5,744.3 L647.0,752.4 L647.5,759.9 L648.0,766.7 L648.5,772.9 L649.0,778.3 L649.5,783.1 L650.0,787.1 L650.5,790.4 L651.0,792.9 L651.5,794.7 L652.0,795.8 L652.5,796.1 L653.0,795.7 L653.5,794.6 L654.0,792.9 L654.5,790.5 L655.0,787.3 L655.5,783.5 L656.0,779.0 L656.5,773.9 L657.0,768.1 L657.5,761.6 L658.0,754.6 L658.5,746.9 L659.0,738.7 L659.5,729.9 L660.0,720.5 L660.5,710.6 L661.0,700.3 L661.5,689.4 L662.0,678.1 L662.5,666.4 L663.0,654.4 L663.5,641.9 L664.0,629.1 L664.5,616.1 L665.0,602.7 L665.5,589.2 L666.0,575.4 L666.5,561.5 L667.0,547.4 L667.5,533.3 L668.0,519.1 L668.5,504.8 L669.0,490.6 L669.5,476.4 L670.0,462.3 L670.5,448.3 L671.0,434.5 L671.5,420.8 L672.0,407.4 L672.5,394.2 L673.0,381.3 L673.5,368.7 L674.0,356.4 L674.5,344.5 L675.0,333.1 L675.5,322.0 L676.0,311.4 L676.5,301.3 L677.0,291.8 L677.5,282.7 L678.0,274.2 L678.5,266.3 L679.0,259.0 L679.5,252.3 L680.0,246.2 L680.5,240.8 L681.0,236.1 L681.5,232.0 L682.0,228.6 L682.5,225.9 L683.0,223.9 L683.5,222.6 L684.0,222.0 L684.5,222.2 L685.0,223.2 L685.5,225.1 L686.0,227.7 L686.5,231.0 L687.0,235.2 L687.5,240.0 L688.0,245.7 L688.5,252.0 L689.0,259.0 L689.5,266.8 L690.0,275.1 L690.5,284.2 L691.0,293.8 L691.5,304.1 L692.0,314.9 L692.5,326.2 L693.0,338.0 L693.5,350.3 L694.0,363.1 L694.5,376.2 L695.0,389.7 L695.5,403.5 L696.0,417.6 L696.5,432.0 L697.0,446.6 L697.5,461.3 L698.0,476.2 L698.5,491.2 L699.0,506.2 L699.5,521.2 L700.0,536.2 L700.5,551.1 L701.0,565.9 L701.5,580.5 L702.0,595.0 L702.5,609.2 L703.0,623.1 L703.5,636.8 L704.0,650.0 L704.5,662.9 L705.0,675.4 L705.5,687.4 L706.0,698.9 L706.5,709.9 L707.0,720.4 L707.5,730.2 L708.0,739.5 L708.5,748.1 L709.0,756.1 L709.5,763.4 L710.0,770.0 L710.5,775.9 L711.0,781.1 L711.5,785.5 L712.0,789.1 L712.5,792.0 L713.0,794.1 L713.5,795.5 L714.0,796.0 L714.5,795.9 L715.0,795.0 L715.5,793.4 L716.0,791.0 L716.5,788.0 L717.0,784.3 L717.5,779.9 L718.0,774.8 L718.5,769.0 L719.0,762.5 L719.5,755.5 L720.0,747.8 L720.5,739.5 L721.0,730.6 L721.5,721.2 L722.0,711.3 L722.5,700.8 L723.0,689.9 L723.5,678.4 L724.0,666.6 L724.5,654.4 L725.0,641.8 L725.5,628.9 L726.0,615.7 L726.5,602.2 L727.0,588.4 L727.5,574.5 L728.0,560.4 L728.5,546.2 L729.0,531.9 L729.5,517.5 L730.0,503.2 L730.5,488.8 L731.0,474.5 L731.5,460.3 L732.0,446.1 L732.5,432.2 L733.0,418.5 L733.5,404.9 L734.0,391.7 L734.5,378.7 L735.0,366.1 L735.5,353.8 L736.0,342.0 L736.5,330.5 L737.0,319.5 L737.5,309.0 L738.0,299.0 L738.5,289.5 L739.0,280.6 L739.5,272.3 L740.0,264.5 L740.5,257.4 L741.0,250.9 L741.5,245.1 L742.0,240.0 L742.5,235.5 L743.0,231.7 L743.5,228.6 L744.0,226.3 L744.5,224.6 L745.0,223.7 L745.5,223.5 L746.0,224.0 L746.5,225.4 L747.0,227.4 L747.5,230.3 L748.0,233.8 L748.5,238.1 L749.0,243.1 L749.5,248.9 L750.0,255.3 L750.5,262.4 L751.0,270.1 L751.5,278.5 L752.0,287.5 L752.5,297.1 L753.0,307.3 L753.5,318.0 L754.0,329.2 L754.5,340.9 L755.0,353.0 L755.5,365.6 L756.0,378.6 L756.5,391.9 L757.0,405.5 L757.5,419.4 L758.0,433.6 L758.5,447.9 L759.0,462.5 L759.5,477.1 L760.0,491.9 L760.5,506.7 L761.0,521.5 L761.5,536.4 L762.0,551.1 L762.5,565.7 L763.0,580.3 L763.5,594.6 L764.0,608.7 L764.5,622.6 L765.0,636.2 L765.5,649.4 L766.0,662.3 L766.5,674.8 L767.0,686.9 L767.5,698.5 L768.0,709.6 L768.5,720.3 L769.0,730.3 L769.5,739.8 L770.0,748.7 L770.5,757.0 L771.0,764.7 L771.5,771.7 L772.0,778.0 L772.5,783.6 L773.0,788.5 L773.5,792.6 L774.0,796.1 L774.5,798.8 L775.0,800.7 L775.5,801.9 L776.0,802.4 L776.5,801.9 L777.0,800.8 L777.5,798.9 L778.0,796.3 L778.5,793.0 L779.0,788.9 L779.5,784.2 L780.0,778.8 L780.5,772.7 L781.0,765.9 L781.5,758.5 L782.0,750.5 L782.5,741.9 L783.0,732.7 L783.5,722.9 L784.0,712.6 L784.5,701.8 L785.0,690.6 L785.5,678.9 L786.0,666.7 L786.5,654.2 L787.0,641.3 L787.5,628.1 L788.0,614.7 L788.5,600.9 L789.0,587.0 L789.5,572.8 L790.0,558.5 L790.5,544.1 L791.0,529.7 L791.5,515.2 L792.0,500.7 L792.5,486.2 L793.0,471.8 L793.5,457.5 L794.0,443.4 L794.5,429.4 L795.0,415.7 L795.5,402.2 L796.0,389.1 L796.5,376.2 L797.0,363.7 L797.5,351.5 L798.0,339.8 L798.5,328.6 L799.0,317.8 L799.5,307.5 L800.0,297.7 L800.5,288.5 L801.0,279.9 L801.5,271.9 L802.0,264.5 L802.5,257.7 L803.0,251.6 L803.5,246.1 L804.0,241.4 L804.5,237.3 L805.0,233.9 L805.5,231.3 L806.0,229.3 L806.5,228.1 L807.0,227.7 L807.5,227.9 L808.0,228.9 L808.5,230.6 L809.0,233.1 L809.5,236.4 L810.0,240.4 L810.5,245.1 L811.0,250.6 L811.5,256.8 L812.0,263.6 L812.5,271.1 L813.0,279.3 L813.5,288.1 L814.0,297.5 L814.5,307.5 L815.0,318.0 L815.5,329.1 L816.0,340.6 L816.5,352.6 L817.0,365.1 L817.5,377.9 L818.0,391.1 L818.5,404.6 L819.0,418.4 L819.5,432.5 L820.0,446.8 L820.5,461.2 L821.0,475.8 L821.5,490.5 L822.0,505.2 L822.5,520.0 L823.0,534.7 L823.5,549.4 L824.0,564.0 L824.5,578.4 L825.0,592.7 L825.5,606.7 L826.0,620.5 L826.5,634.0 L827.0,647.1 L827.5,659.9 L828.0,672.3 L828.5,684.3 L829.0,695.8 L829.5,706.8 L830.0,717.3 L830.5,727.2 L831.0,736.6 L831.5,745.3 L832.0,753.5 L832.5,760.9 L833.0,767.7 L833.5,773.8 L834.0,779.3 L834.5,783.9 L835.0,787.9 L835.5,791.1 L836.0,793.6 L836.5,795.3 L837.0,796.2 L837.5,796.4 L838.0,795.9 L838.5,794.6 L839.0,792.6 L839.5,789.9 L840.0,786.4 L840.5,782.3 L841.0,777.4 L841.5,771.9 L842.0,765.7 L842.5,758.9 L843.0,751.4 L843.5,743.3 L844.0,734.6 L844.5,725.3 L845.0,715.5 L845.5,705.2 L846.0,694.3 L846.5,683.0 L847.0,671.3 L847.5,659.2 L848.0,646.6 L848.5,633.8 L849.0,620.6 L849.5,607.1 L850.0,593.4 L850.5,579.5 L851.0,565.4 L851.5,551.1 L852.0,536.8 L852.5,522.4 L853.0,508.0 L853.5,493.5 L854.0,479.2 L854.5,464.9 L855.0,450.7 L855.5,436.7 L856.0,422.8 L856.5,409.2 L857.0,395.9 L857.5,382.9 L858.0,370.2 L858.5,357.8 L859.0,345.8 L859.5,334.3 L860.0,323.2 L860.5,312.6 L861.0,302.5 L861.5,293.0 L862.0,284.0 L862.5,275.6 L863.0,267.8 L863.5,260.6 L864.0,254.0 L864.5,248.1 L865.0,242.9 L865.5,238.4 L866.0,234.6 L866.5,231.4 L867.0,229.0 L867.5,227.4 L868.0,226.4 L868.5,226.2 L869.0,226.7 L869.5,228.0 L870.0,230.1 L870.5,232.9 L871.0,236.5 L871.5,240.7 L872.0,245.7 L872.5,251.4 L873.0,257.8 L873.5,264.9 L874.0,272.6 L874.5,280.9 L875.0,289.9 L875.5,299.4 L876.0,309.5 L876.5,320.1 L877.0,331.3 L877.5,342.9 L878.0,354.9 L878.5,367.4 L879.0,380.2 L879.5,393.4 L880.0,406.9 L880.5,420.7 L881.0,434.7 L881.5,448.9 L882.0,463.2 L882.5,477.7 L883.0,492.2 L883.5,506.8 L884.0,521.4 L884.5,536.0 L885.0,550.5 L885.5,564.9 L886.0,579.1 L886.5,593.2 L887.0,607.0 L887.5,620.5 L888.0,633.8 L888.5,646.7 L889.0,659.3 L889.5,671.4 L890.0,683.1 L890.5,694.4 L891.0,705.1 L891.5,715.4 L892.0,725.0 L892.5,734.1 L893.0,742.6 L893.5,750.5 L894.0,757.7 L894.5,764.3 L895.0,770.2 L895.5,775.4 L896.0,779.9 L896.5,783.6 L897.0,786.6 L897.5,788.9 L898.0,790.5 L898.5,791.2 L899.0,791.3 L899.5,790.6 L900.0,789.2 L900.5,787.1 L901.0,784.3 L901.5,780.8 L902.0,776.5 L902.5,771.6 L903.0,766.0 L903.5,759.7 L904.0,752.8 L904.5,745.3 L905.0,737.2 L905.5,728.4 L906.0,719.1 L906.5,709.3 L907.0,698.9 L907.5,688.1 L908.0,676.8 L908.5,665.1 L909.0,652.9 L909.5,640.4 L910.0,627.6 L910.5,614.5 L911.0,601.1 L911.5,587.4 L912.0,573.6 L912.5,559.6 L913.0,545.4 L913.5,531.2 L914.0,516.9 L914.5,502.7 L915.0,488.4 L915.5,474.2 L916.0,460.0 L916.5,446.0 L917.0,432.2 L917.5,418.6 L918.0,405.2 L918.5,392.1 L919.0,379.3 L919.5,366.8 L920.0,354.7 L920.5,343.0 L921.0,331.7 L921.5,320.9 L922.0,310.6 L922.5,300.8 L923.0,291.6 L923.5,282.9 L924.0,274.8 L924.5,267.3 L925.0,260.4 L925.5,254.2 L926.0,248.6 L926.5,243.7 L927.0,239.5 L927.5,236.0 L928.0,233.3 L928.5,231.2 L929.0,229.8 L929.5,229.2 L930.0,229.3 L930.5,230.1 L931.0,231.6 L931.5,233.8 L932.0,236.8 L932.5,240.5 L933.0,244.9 L933.5,250.0 L934.0,255.8 L934.5,262.2 L935.0,269.3 L935.5,277.0 L936.0,285.4 L936.5,294.3 L937.0,303.8 L937.5,313.8 L938.0,324.3 L938.5,335.3 L939.0,346.8 L939.5,358.7 L940.0,371.0 L940.5,383.7 L941.0,396.7 L941.5,410.0 L942.0,423.5 L942.5,437.3 L943.0,451.3 L943.5,465.4 L944.0,479.7 L944.5,494.0 L945.0,508.3 L945.5,522.7 L946.0,537.0 L946.5,551.3 L947.0,565.5 L947.5,579.5 L948.0,593.3 L948.5,606.9 L949.0,620.3 L949.5,633.3 L950.0,646.1 L950.5,658.5 L951.0,670.5 L951.5,682.1 L952.0,693.2 L952.5,703.8 L953.0,714.0 L953.5,723.6 L954.0,732.6 L954.5,741.1 L955.0,748.9 L955.5,756.2 L956.0,762.8 L956.5,768.7 L957.0,773.9 L957.5,778.5 L958.0,782.3 L958.5,785.5 L959.0,787.9 L959.5,789.6 L960.0,790.5 L960.5,790.7 L961.0,790.3 L961.5,789.1 L962.0,787.3 L962.5,784.8 L963.0,781.6 L963.5,777.7 L964.0,773.1 L964.5,767.9 L965.0,762.1 L965.5,755.6 L966.0,748.6 L966.5,740.9 L967.0,732.7 L967.5,723.9 L968.0,714.6 L968.5,704.7 L969.0,694.4 L969.5,683.7 L970.0,672.5 L970.5,660.8 L971.0,648.9 L971.5,636.5 L972.0,623.9 L972.5,611.0 L973.0,597.8 L973.5,584.4 L974.0,570.8 L974.5,557.1 L975.0,543.2 L975.5,529.3 L976.0,515.3 L976.5,501.3 L977.0,487.3 L977.5,473.3 L978.0,459.5 L978.5,445.8 L979.0,432.2 L979.5,418.8 L980.0,405.6 L980.5,392.7 L981.0,380.1 L981.5,367.8 L982.0,355.9 L982.5,344.3 L983.0,333.1 L983.5,322.4 L984.0,312.1 L984.5,302.3 L985.0,293.0 L985.5,284.3 L986.0,276.1 L986.5,268.5 L987.0,261.5 L987.5,255.1 L988.0,249.3 L988.5,244.2 L989.0,239.7 L989.5,235.9 L990.0,232.8 L990.5,230.3 L991.0,228.6 L991.5,227.5 L992.0,227.1 L992.5,227.6 L993.0,228.8 L993.5,230.8 L994.0,233.6 L994.5,237.1 L995.0,241.4 L995.5,246.5 L996.0,252.3 L996.5,258.8 L997.0,266.0 L997.5,274.0 L998.0,282.5 L998.5,291.7 L999.0,301.5 L999.5,311.9 L1000.0,322.9 L1000.5,334.4 L1001.0,346.4 L1001.5,358.8 L1002.0,371.6 L1002.5,384.9 L1003.0,398.5 L1003.5,412.4 L1004.0,426.6 L1004.5,441.0 L1005.0,455.6 L1005.5,470.4 L1006.0,485.3 L1006.5,500.2 L1007.0,515.2 L1007.5,530.2 L1008.0,545.1 L1008.5,559.9 L1009.0,574.6 L1009.5,589.1 L1010.0,603.4 L1010.5,617.4 L1011.0,631.1 L1011.5,644.5 L1012.0,657.5 L1012.5,670.1 L1013.0,682.3 L1013.5,694.0 L1014.0,705.2 L1014.5,715.8 L1015.0,725.9 L1015.5,735.3 L1016.0,744.1 L1016.5,752.3 L1017.0,759.8 L1017.5,766.6 L1018.0,772.7 L1018.5,778.1 L1019.0,782.7 L1019.5,786.6 L1020.0,789.7 L1020.5,792.0 L1021.0,793.5 L1021.5,794.3 L1022.0,794.2 L1022.5,793.4 L1023.0,791.8 L1023.5,789.6 L1024.0,786.7 L1024.5,783.2 L1025.0,779.0 L1025.5,774.1 L1026.0,768.5 L1026.5,762.4 L1027.0,755.6 L1027.5,748.2 L1028.0,740.3 L1028.5,731.8 L1029.0,722.7 L1029.5,713.2 L1030.0,703.1 L1030.5,692.6 L1031.0,681.6 L1031.5,670.3 L1032.0,658.5 L1032.5,646.4 L1033.0,633.9 L1033.5,621.2 L1034.0,608.1 L1034.5,594.9 L1035.0,581.4 L1035.5,567.8 L1036.0,554.1 L1036.5,540.2 L1037.0,526.3 L1037.5,512.3 L1038.0,498.4 L1038.5,484.4 L1039.0,470.6 L1039.5,456.8 L1040.0,443.2 L1040.5,429.8 L1041.0,416.5 L1041.5,403.5 L1042.0,390.8 L1042.5,378.4 L1043.0,366.3 L1043.5,354.5 L1044.0,343.2 L1044.5,332.2 L1045.0,321.7 L1045.5,311.7 L1046.0,302.1 L1046.5,293.1 L1047.0,284.6 L1047.5,276.6 L1048.0,269.3 L1048.5,262.5 L1049.0,256.4 L1049.5,250.8 L1050.0,245.9 L1050.5,241.7 L1051.0,238.1 L1051.5,235.2 L1052.0,233.0 L1052.5,231.4 L1053.0,230.5 L1053.5,230.4 L1054.0,230.9 L1054.5,232.3 L1055.0,234.4 L1055.5,237.4 L1056.0,241.2 L1056.5,245.7 L1057.0,251.0 L1057.5,257.0 L1058.0,263.8 L1058.5,271.3 L1059.0,279.4 L1059.5,288.3 L1060.0,297.8 L1060.5,307.8 L1061.0,318.5 L1061.5,329.7 L1062.0,341.5 L1062.5,353.7 L1063.0,366.4 L1063.5,379.5 L1064.0,392.9 L1064.5,406.7 L1065.0,420.8 L1065.5,435.1 L1066.0,449.7 L1066.5,464.4 L1067.0,479.3 L1067.5,494.2 L1068.0,509.2 L1068.5,524.2 L1069.0,539.1 L1069.5,553.9 L1070.0,568.6 L1070.5,583.2 L1071.0,597.5 L1071.5,611.5 L1072.0,625.3 L1072.5,638.7 L1073.0,651.7 L1073.5,664.4 L1074.0,676.5 L1074.5,688.2 L1075.0,699.4 L1075.5,710.0 L1076.0,720.0 L1076.5,729.4 L1077.0,738.2 L1077.5,746.3 L1078.0,753.7 L1078.5,760.4 L1079.0,766.4 L1079.5,771.6 L1080.0,776.1 L1080.5,779.7 L1081.0,782.6 L1081.5,784.7 L1082.0,786.0 L1082.5,786.5 L1083.0,786.3 L1083.5,785.4 L1084.0,783.9 L1084.5,781.7 L1085.0,778.8 L1085.5,775.3 L1086.0,771.1 L1086.5,766.3 L1087.0,760.9 L1087.5,754.9 L1088.0,748.3 L1088.5,741.1 L1089.0,733.4 L1089.5,725.1 L1090.0,716.3 L1090.5,707.0 L1091.0,697.3 L1091.5,687.0 L1092.0,676.4 L1092.5,665.3 L1093.0,653.9 L1093.5,642.1 L1094.0,630.0 L1094.5,617.6 L1095.0,604.9 L1095.5,592.0 L1096.0,578.9 L1096.5,565.7 L1097.0,552.3 L1097.5,538.8 L1098.0,525.2 L1098.5,511.6 L1099.0,497.9 L1099.5,484.3 L1100.0,470.7 L1100.5,457.3 L1101.0,443.9 L1101.5,430.7 L1102.0,417.7 L1102.5,404.9 L1103.0,392.4 L1103.5,380.1 L1104.0,368.1 L1104.5,356.5 L1105.0,345.2 L1105.5,334.3 L1106.0,323.8 L1106.5,313.8 L1107.0,304.2 L1107.5,295.1 L1108.0,286.5 L1108.5,278.5 L1109.0,271.0 L1109.5,264.1 L1110.0,257.7 L1110.5,251.9 L1111.0,246.8 L1111.5,242.3 L1112.0,238.4 L1112.5,235.1 L1113.0,232.5 L1113.5,230.6 L1114.0,229.3 L1114.5,228.7 L1115.0,228.8 L1115.5,229.7 L1116.0,231.4 L1116.5,233.8 L1117.0,237.0 L1117.5,241.0 L1118.0,245.7 L1118.5,251.2 L1119.0,257.3 L1119.5,264.2 L1120.0,271.8 L1120.5,280.0 L1121.0,288.8 L1121.5,298.3 L1122.0,308.3 L1122.5,319.0 L1123.0,330.1 L1123.5,341.7 L1124.0,353.8 L1124.5,366.3 L1125.0,379.3 L1125.5,392.5 L1126.0,406.1 L1126.5,420.0 L1127.0,434.1 L1127.5,448.4 L1128.0,462.9 L1128.5,477.5 L1129.0,492.2 L1129.5,506.9 L1130.0,521.6 L1130.5,536.3 L1131.0,550.9 L1131.5,565.4 L1132.0,579.7 L1132.5,593.8 L1133.0,607.6 L1133.5,621.2 L1134.0,634.4 L1134.5,647.3 L1135.0,659.7 L1135.5,671.8 L1136.0,683.4 L1136.5,694.4 L1137.0,705.0 L1137.5,715.0 L1138.0,724.4 L1138.5,733.2 L1139.0,741.3 L1139.5,748.8 L1140.0,755.6 L1140.5,761.7 L1141.0,767.1 L1141.5,771.7 L1142.0,775.6 L1142.5,778.8 L1143.0,781.2 L1143.5,782.8 L1144.0,783.6 L1144.5,783.7 L1145.0,783.2 L1145.5,782.0 L1146.0,780.1 L1146.5,777.6 L1147.0,774.3 L1147.5,770.4 L1148.0,765.8 L1148.5,760.5 L1149.0,754.6 L1149.5,748.1 L1150.0,741.0 L1150.5,733.3 L1151.0,725.0 L1151.5,716.1 L1152.0,706.8 L1152.5,696.9 L1153.0,686.6 L1153.5,675.8 L1154.0,664.6 L1154.5,652.9 L1155.0,641.0 L1155.5,628.6 L1156.0,616.0 L1156.5,603.1 L1157.0,590.0 L1157.5,576.6 L1158.0,563.1 L1158.5,549.4 L1159.0,535.6 L1159.5,521.8 L1160.0,507.9 L1160.5,494.0 L1161.0,480.2 L1161.5,466.4 L1162.0,452.7 L1162.5,439.2 L1163.0,425.8 L1163.5,412.6 L1164.0,399.7 L1164.5,387.1 L1165.0,374.7 L1165.5,362.7 L1166.0,351.1 L1166.5,339.8 L1167.0,329.0 L1167.5,318.6 L1168.0,308.8 L1168.5,299.4 L1169.0,290.5 L1169.5,282.2 L1170.0,274.5 L1170.5,267.4 L1171.0,260.9 L1171.5,255.0 L1172.0,249.7 L1172.5,245.1 L1173.0,241.2 L1173.5,237.9 L1174.0,235.4 L1174.5,233.5 L1175.0,232.3 L1175.5,231.9 L1176.0,232.2 L1176.5,233.2 L1177.0,235.1 L1177.5,237.7 L1178.0,241.0 L1178.5,245.1 L1179.0,250.0 L1179.5,255.5 L1180.0,261.8 L1180.5,268.7 L1181.0,276.3 L1181.5,284.6 L1182.0,293.4 L1182.5,302.9 L1183.0,313.0 L1183.5,323.6 L1184.0,334.8 L1184.5,346.4 L1185.0,358.5 L1185.5,371.0 L1186.0,383.9 L1186.5,397.1 L1187.0,410.7 L1187.5,424.6 L1188.0,438.7 L1188.5,453.0 L1189.0,467.5 L1189.5,482.2 L1190.0,496.9 L1190.5,511.6 L1191.0,526.4 L1191.5,541.2 L1192.0,555.8 L1192.5,570.4 L1193.0,584.8 L1193.5,599.0 L1194.0,613.0 L1194.5,626.8 L1195.0,640.2 L1195.5,653.3 L1196.0,666.0 L1196.5,678.3 L1197.0,690.2 L1197.5,701.6 L1198.0,712.4 L1198.5,722.8 L1199.0,732.5 L1199.5,741.7 L1200.0,750.3 L1200.5,758.2 L1201.0,765.5 L1201.5,772.1 L1202.0,778.0 L1202.5,783.1 L1203.0,787.6 L1203.5,791.3 L1204.0,794.2 L1204.5,796.4 L1205.0,797.9 L1205.5,798.5 L1206.0,798.3 L1206.5,797.3 L1207.0,795.6 L1207.5,793.2 L1208.0,790.1 L1208.5,786.3 L1209.0,781.8 L1209.5,776.7 L1210.0,771.0 L1210.5,764.6 L1211.0,757.5 L1211.5,749.9 L1212.0,741.7 L1212.5,733.0 L1213.0,723.7 L1213.5,713.9 L1214.0,703.6 L1214.5,692.8 L1215.0,681.6 L1215.5,670.0 L1216.0,658.1 L1216.5,645.7 L1217.0,633.1 L1217.5,620.2 L1218.0,607.0 L1218.5,593.6 L1219.0,580.0 L1219.5,566.3 L1220.0,552.5 L1220.5,538.6 L1221.0,524.6 L1221.5,510.6 L1222.0,496.7 L1222.5,482.8 L1223.0,469.0 L1223.5,455.4 L1224.0,441.9 L1224.5,428.6 L1225.0,415.5 L1225.5,402.7 L1226.0,390.2 L1226.5,378.0 L1227.0,366.2 L1227.5,354.8 L1228.0,343.8 L1228.5,333.2 L1229.0,323.1 L1229.5,313.5 L1230.0,304.4 L1230.5,295.9 L1231.0,287.9 L1231.5,280.5 L1232.0,273.8 L1232.5,267.6 L1233.0,262.0 L1233.5,257.1 L1234.0,252.9 L1234.5,249.3 L1235.0,246.5 L1235.5,244.2 L1236.0,242.7 L1236.5,241.9 L1237.0,241.8 L1237.5,242.2 L1238.0,243.4 L1238.5,245.4 L1239.0,248.1 L1239.5,251.5 L1240.0,255.7 L1240.5,260.5 L1241.0,266.1 L1241.5,272.3 L1242.0,279.3 L1242.5,286.8 L1243.0,295.0 L1243.5,303.8 L1244.0,313.2 L1244.5,323.1 L1245.0,333.5 L1245.5,344.5 L1246.0,355.9 L1246.5,367.7 L1247.0,380.0 L1247.5,392.6 L1248.0,405.6 L1248.5,418.8 L1249.0,432.3 L1249.5,446.1 L1250.0,460.0 L1250.5,474.1 L1251.0,488.3 L1251.5,502.6 L1252.0,516.9 L1252.5,531.2 L1253.0,545.4 L1253.5,559.6 L1254.0,573.7 L1254.5,587.6 L1255.0,601.3 L1255.5,614.7 L1256.0,627.9 L1256.5,640.8 L1257.0,653.3 L1257.5,665.5 L1258.0,677.2 L1258.5,688.5 L1259.0,699.4 L1259.5,709.7 L1260.0,719.5 L1260.5,728.7 L1261.0,737.3 L1261.5,745.4 L1262.0,752.8 L1262.5,759.5 L1263.0,765.6 L1263.5,771.0 L1264.0,775.7 L1264.5,779.7 L1265.0,783.0 L1265.5,785.5 L1266.0,787.3 L1266.5,788.4 L1267.0,788.7 L1267.5,788.2 L1268.0,787.1 L1268.5,785.3 L1269.0,782.8 L1269.5,779.6 L1270.0,775.7 L1270.5,771.2 L1271.0,766.0 L1271.5,760.2 L1272.0,753.7 L1272.5,746.6 L1273.0,739.0 L1273.5,730.7 L1274.0,721.9 L1274.5,712.6 L1275.0,702.8 L1275.5,692.5 L1276.0,681.7 L1276.5,670.5 L1277.0,658.9 L1277.5,647.0 L1278.0,634.7 L1278.5,622.0 L1279.0,609.1 L1279.5,596.0 L1280.0,582.6 L1280.5,569.1 L1281.0,555.4 L1281.5,541.6 L1282.0,527.8 L1282.5,513.8 L1283.0,499.9 L1283.5,486.0 L1284.0,472.2 L1284.5,458.5 L1285.0,444.9 L1285.5,431.5 L1286.0,418.2 L1286.5,405.2 L1287.0,392.5 L1287.5,380.1 L1288.0,368.0 L1288.5,356.3 L1289.0,344.9 L1289.5,334.0 L1290.0,323.5 L1290.5,313.5 L1291.0,304.0 L1291.5,295.0 L1292.0,286.6 L1292.5,278.7 L1293.0,271.4 L1293.5,264.8 L1294.0,258.7 L1294.5,253.3 L1295.0,248.5 L1295.5,244.4 L1296.0,240.9 L1296.5,238.2 L1297.0,236.1 L1297.5,234.7 L1298.0,234.0 L1298.5,234.1 L1299.0,234.9 L1299.5,236.4 L1300.0,238.6 L1300.5,241.5 L1301.0,245.2 L1301.5,249.6 L1302.0,254.6 L1302.5,260.3 L1303.0,266.7 L1303.5,273.7 L1304.0,281.3 L1304.5,289.5 L1305.0,298.3 L1305.5,307.7 L1306.0,317.6 L1306.5,328.0 L1307.0,338.8 L1307.5,350.1 L1308.0,361.9 L1308.5,374.0 L1309.0,386.5 L1309.5,399.2 L1310.0,412.3 L1310.5,425.6 L1311.0,439.2 L1311.5,452.9 L1312.0,466.7 L1312.5,480.7 L1313.0,494.7 L1313.5,508.8 L1314.0,522.8 L1314.5,536.8 L1315.0,550.7 L1315.5,564.5 L1316.0,578.2 L1316.5,591.6 L1317.0,604.9 L1317.5,617.8 L1318.0,630.5 L1318.5,642.9 L1319.0,654.8 L1319.5,666.4 L1320.0,677.6 L1320.5,688.3 L1321.0,698.5 L1321.5,708.2 L1322.0,717.4 L1322.5,726.0 L1323.0,734.0 L1323.5,741.4 L1324.0,748.2 L1324.5,754.3 L1325.0,759.8 L1325.5,764.7 L1326.0,768.8 L1326.5,772.2 L1327.0,774.9 L1327.5,777.0 L1328.0,778.3 L1328.5,778.8 L1329.0,778.8 L1329.5,778.1 L1330.0,776.8 L1330.5,774.8 L1331.0,772.1 L1331.5,768.7 L1332.0,764.7 L1332.5,760.0 L1333.0,754.7 L1333.5,748.7 L1334.0,742.2 L1334.5,735.0 L1335.0,727.3 L1335.5,719.0 L1336.0,710.1 L1336.5,700.8 L1337.0,690.9 L1337.5,680.6 L1338.0,669.8 L1338.5,658.6 L1339.0,647.1 L1339.5,635.2 L1340.0,622.9 L1340.5,610.4 L1341.0,597.5 L1341.5,584.5 L1342.0,571.2 L1342.5,557.8 L1343.0,544.3 L1343.5,530.6 L1344.0,516.9 L1344.5,503.1 L1345.0,489.4 L1345.5,475.7 L1346.0,462.1 L1346.5,448.5 L1347.0,435.2 L1347.5,422.0 L1348.0,409.0 L1348.5,396.2 L1349.0,383.7 L1349.5,371.6 L1350.0,359.7 L1350.5,348.3 L1351.0,337.2 L1351.5,326.6 L1352.0,316.4 L1352.5,306.7 L1353.0,297.4 L1353.5,288.8 L1354.0,280.6 L1354.5,273.1 L1355.0,266.1 L1355.5,259.7 L1356.0,254.0 L1356.5,248.8 L1357.0,244.4 L1357.5,240.6 L1358.0,237.5 L1358.5,235.0 L1359.0,233.3 L1359.5,232.2 L1360.0,231.9 L1360.5,232.3 L1361.0,233.4 L1361.5,235.4 L1362.0,238.0 L1362.5,241.5 L1363.0,245.6 L1363.5,250.5 L1364.0,256.1 L1364.5,262.4 L1365.0,269.3 L1365.5,277.0 L1366.0,285.2 L1366.5,294.1 L1367.0,303.6 L1367.5,313.6 L1368.0,324.2 L1368.5,335.3 L1369.0,346.9 L1369.5,358.9 L1370.0,371.3 L1370.5,384.1 L1371.0,397.3 L1371.5,410.8 L1372.0,424.6 L1372.5,438.6 L1373.0,452.8 L1373.5,467.1 L1374.0,481.6 L1374.5,496.2 L1375.0,510.8 L1375.5,525.4 L1376.0,540.0 L1376.5,554.5 L1377.0,568.9 L1377.5,583.1 L1378.0,597.1 L1378.5,611.0 L1379.0,624.5 L1379.5,637.7 L1380.0,650.6 L1380.5,663.1 L1381.0,675.2 L1381.5,686.9 L1382.0,698.0 L1382.5,708.7 L1383.0,718.8 L1383.5,728.4 L1384.0,737.4 L1384.5,745.7 L1385.0,753.5 L1385.5,760.5 L1386.0,766.9 L1386.5,772.6 L1387.0,777.6 L1387.5,781.8 L1388.0,785.3 L1388.5,788.1 L1389.0,790.1 L1389.5,791.4 L1390.0,791.9 L1390.5,791.5 L1391.0,790.5 L1391.5,788.8 L1392.0,786.3 L1392.5,783.2 L1393.0,779.3 L1393.5,774.8 L1394.0,769.7 L1394.5,763.8 L1395.0,757.4 L1395.5,750.3 L1396.0,742.6 L1396.5,734.3 L1397.0,725.5 L1397.5,716.1 L1398.0,706.2 L1398.5,695.8 L1399.0,684.9 L1399.5,673.6 L1400.0,661.9 L1400.5,649.8 L1401.0,637.4 L1401.5,624.7 L1402.0,611.6 L1402.5,598.4 L1403.0,584.9 L1403.5,571.2 L1404.0,557.4 L1404.5,543.4 L1405.0,529.4 L1405.5,515.4 L1406.0,501.3 L1406.5,487.3 L1407.0,473.4 L1407.5,459.5 L1408.0,445.8 L1408.5,432.3 L1409.0,419.0 L1409.5,405.9 L1410.0,393.1 L1410.5,380.6 L1411.0,368.4 L1411.5,356.7 L1412.0,345.3 L1412.5,334.3 L1413.0,323.9 L1413.5,313.9 L1414.0,304.4 L1414.5,295.4 L1415.0,287.0 L1415.5,279.2 L1416.0,272.0 L1416.5,265.4 L1417.0,259.4 L1417.5,254.1 L1418.0,249.5 L1418.5,245.5 L1419.0,242.3 L1419.5,239.7 L1420.0,237.8 L1420.5,236.6 L1421.0,236.2 L1421.5,236.4 L1422.0,237.3 L1422.5,239.0 L1423.0,241.4 L1423.5,244.6 L1424.0,248.6 L1424.5,253.2 L1425.0,258.5 L1425.5,264.6 L1426.0,271.3 L1426.5,278.7 L1427.0,286.7 L1427.5,295.4 L1428.0,304.6 L1428.5,314.4 L1429.0,324.8 L1429.5,335.6 L1430.0,347.0 L1430.5,358.8 L1431.0,371.1 L1431.5,383.7 L1432.0,396.7 L1432.5,410.0 L1433.0,423.6 L1433.5,437.5 L1434.0,451.6 L1434.5,465.8 L1435.0,480.2 L1435.5,494.7 L1436.0,509.2 L1436.5,523.8 L1437.0,538.3 L1437.5,552.8 L1438.0,567.2 L1438.5,581.4 L1439.0,595.5 L1439.5,609.4 L1440.0,623.0 L1440.5,636.3 L1441.0,649.3 L1441.5,661.9 L1442.0,674.1 L1442.5,685.9 L1443.0,697.3 L1443.5,708.1 L1444.0,718.5 L1444.5,728.3 L1445.0,737.5 L1445.5,746.1 L1446.0,754.1 L1446.5,761.5 L1447.0,768.1 L1447.5,774.1 L1448.0,779.4 L1448.5,784.0 L1449.0,787.9 L1449.5,791.0 L1450.0,793.4 L1450.5,795.0 L1451.0,795.9 L1451.5,795.9 L1452.0,795.1 L1452.5,793.6 L1453.0,791.3 L1453.5,788.3 L1454.0,784.6 L1454.5,780.2 L1455.0,775.1 L1455.5,769.3 L1456.0,762.8 L1456.5,755.7 L1457.0,748.0 L1457.5,739.7 L1458.0,730.7 L1458.5,721.2 L1459.0,711.2 L1459.5,700.7 L1460.0,689.6 L1460.5,678.2 L1461.0,666.2 L1461.5,653.9 L1462.0,641.3 L1462.5,628.3 L1463.0,615.0 L1463.5,601.4 L1464.0,587.6 L1464.5,573.6 L1465.0,559.5 L1465.5,545.2 L1466.0,530.9 L1466.5,516.5 L1467.0,502.2 L1467.5,487.8 L1468.0,473.5 L1468.5,459.4 L1469.0,445.3 L1469.5,431.5 L1470.0,417.9 L1470.5,404.5 L1471.0,391.4 L1471.5,378.6 L1472.0,366.2 L1472.5,354.1 L1473.0,342.5 L1473.5,331.3 L1474.0,320.6 L1474.5,310.4 L1475.0,300.8 L1475.5,291.6 L1476.0,283.1 L1476.5,275.1 L1477.0,267.8 L1477.5,261.1 L1478.0,255.1 L1478.5,249.7 L1479.0,245.1 L1479.5,241.1 L1480.0,237.8 L1480.5,235.2 L1481.0,233.4 L1481.5,232.2 L1482.0,231.9 L1482.5,232.2 L1483.0,233.2 L1483.5,235.0 L1484.0,237.5 L1484.5,240.6 L1485.0,244.5 L1485.5,249.0 L1486.0,254.2 L1486.5,260.0 L1487.0,266.5 L1487.5,273.6 L1488.0,281.3 L1488.5,289.5 L1489.0,298.4 L1489.5,307.7 L1490.0,317.6 L1490.5,327.9 L1491.0,338.8 L1491.5,350.0 L1492.0,361.6 L1492.5,373.7 L1493.0,386.0 L1493.5,398.7 L1494.0,411.6 L1494.5,424.8 L1495.0,438.1 L1495.5,451.7 L1496.0,465.4 L1496.5,479.1 L1497.0,493.0 L1497.5,506.9 L1498.0,520.7 L1498.5,534.6 L1499.0,548.3 L1499.5,562.0 L1500.0,575.4 L1500.5,588.7 L1501.0,601.8 L1501.5,614.7 L1502.0,627.2 L1502.5,639.5 L1503.0,651.3 L1503.5,662.8 L1504.0,673.9 L1504.5,684.6 L1505.0,694.8 L1505.5,704.5 L1506.0,713.7 L1506.5,722.4 L1507.0,730.5 L1507.5,738.0 L1508.0,744.9 L1508.5,751.2 L1509.0,756.8 L1509.5,761.8 L1510.0,766.2 L1510.5,769.8 L1511.0,772.8 L1511.5,775.1 L1512.0,776.7 L1512.5,777.6 L1513.0,777.9 L1513.5,777.6 L1514.0,776.6 L1514.5,774.9 L1515.0,772.5 L1515.5,769.3 L1516.0,765.5 L1516.5,760.9 L1517.0,755.6 L1517.5,749.7 L1518.0,743.1 L1518.5,735.9 L1519.0,728.0 L1519.5,719.5 L1520.0,710.5 L1520.5,700.9 L1521.0,690.7 L1521.5,680.1 L1522.0,668.9 L1522.5,657.4 L1523.0,645.4 L1523.5,633.0 L1524.0,620.3 L1524.5,607.3 L1525.0,594.0 L1525.5,580.4 L1526.0,566.7 L1526.5,552.7 L1527.0,538.7 L1527.5,524.5 L1528.0,510.3 L1528.5,496.0 L1529.0,481.8 L1529.5,467.7 L1530.0,453.6 L1530.5,439.7 L1531.0,425.9 L1531.5,412.4 L1532.0,399.1 L1532.5,386.0 L1533.0,373.3 L1533.5,361.0 L1534.0,349.0 L1534.5,337.4 L1535.0,326.3 L1535.5,315.7 L1536.0,305.6 L1536.5,296.0 L1537.0,287.0 L1537.5,278.6 L1538.0,270.7 L1538.5,263.5 L1539.0,257.0 L1539.5,251.1 L1540.0,245.9 L1540.5,241.5 L1541.0,237.7 L1541.5,234.6 L1542.0,232.3 L1542.5,230.7 L1543.0,229.9 L1543.5,229.9 L1544.0,230.7 L1544.5,232.2 L1545.0,234.5 L1545.5,237.4 L1546.0,241.1 L1546.5,245.5 L1547.0,250.6 L1547.5,256.4 L1548.0,262.8 L1548.5,269.9 L1549.0,277.6 L1549.5,285.9 L1550.0,294.8 L1550.5,304.3 L1551.0,314.3 L1551.5,324.9 L1552.0,335.9 L1552.5,347.4 L1553.0,359.3 L1553.5,371.6 L1554.0,384.2 L1554.5,397.2 L1555.0,410.5 L1555.5,424.1 L1556.0,437.9 L1556.5,451.9 L1557.0,466.0 L1557.5,480.3 L1558.0,494.6 L1558.5,509.0 L1559.0,523.4 L1559.5,537.7 L1560.0,552.0 L1560.5,566.2 L1561.0,580.3 L1561.5,594.1 L1562.0,607.8 L1562.5,621.2 L1563.0,634.3 L1563.5,647.1 L1564.0,659.5 L1564.5,671.6 L1565.0,683.2 L1565.5,694.4 L1566.0,705.1 L1566.5,715.3 L1567.0,725.0 L1567.5,734.1 L1568.0,742.6 L1568.5,750.6 L1569.0,757.9 L1569.5,764.6 L1570.0,770.6 L1570.5,775.9 L1571.0,780.6 L1571.5,784.5 L1572.0,787.8 L1572.5,790.3 L1573.0,792.1 L1573.5,793.2 L1574.0,793.6 L1574.5,793.1 L1575.0,792.0 L1575.5,790.1 L1576.0,787.5 L1576.5,784.2 L1577.0,780.2 L1577.5,775.5 L1578.0,770.2 L1578.5,764.1 L1579.0,757.5 L1579.5,750.2 L1580.0,742.3 L1580.5,733.8 L1581.0,724.7 L1581.5,715.1 L1582.0,705.0 L1582.5,694.4 L1583.0,683.4 L1583.5,671.9 L1584.0,660.0 L1584.5,647.7 L1585.0,635.1 L1585.5,622.2 L1586.0,609.1 L1586.5,595.7 L1587.0,582.1 L1587.5,568.3 L1588.0,554.5 L1588.5,540.5 L1589.0,526.5 L1589.5,512.4 L1590.0,498.4 L1590.5,484.5 L1591.0,470.6 L1591.5,456.9 L1592.0,443.3 L1592.5,429.9 L1593.0,416.8 L1593.5,404.0 L1594.0,391.4 L1594.5,379.2 L1595.0,367.4 L1595.5,356.0 L1596.0,345.0 L1596.5,334.5 L1597.0,324.5 L1597.5,314.9 L1598.0,306.0 L1598.5,297.6 L1599.0,289.7 L1599.5,282.5 L1600.0,275.9 L1600.5,270.0 L1601.0,264.7 L1601.5,260.1 L1602.0,256.2 L1602.5,253.0 L1603.0,250.5 L1603.5,248.7 L1604.0,247.6 L1604.5,247.2 L1605.0,247.4 L1605.5,248.3 L1606.0,250.0 L1606.5,252.3 L1607.0,255.4 L1607.5,259.1 L1608.0,263.6 L1608.5,268.7 L1609.0,274.6 L1609.5,281.0 L1610.0,288.2 L1610.5,295.9 L1611.0,304.2 L1611.5,313.2 L1612.0,322.6 L1612.5,332.6 L1613.0,343.2 L1613.5,354.2 L1614.0,365.6 L1614.5,377.5 L1615.0,389.7 L1615.5,402.4 L1616.0,415.3 L1616.5,428.5 L1617.0,442.0 L1617.5,455.7 L1618.0,469.6 L1618.5,483.7 L1619.0,497.8 L1619.5,512.0 L1620.0,526.3 L1620.5,540.5 L1621.0,554.8 L1621.5,568.9 L1622.0,582.9 L1622.5,596.8 L1623.0,610.5 L1623.5,624.0 L1624.0,637.2 L1624.5,650.1 L1625.0,662.7 L1625.5,674.9 L1626.0,686.8 L1626.5,698.2 L1627.0,709.1 L1627.5,719.6 L1628.0,729.6 L1628.5,739.0 L1629.0,747.9 L1629.5,756.1 L1630.0,763.8 L1630.5,770.8 L1631.0,777.2 L1631.5,783.0 L1632.0,788.0 L1632.5,792.4 L1633.0,796.0 L1633.5,798.9 L1634.0,801.1 L1634.5,802.6 L1635.0,803.4 L1635.5,803.2 L1636.0,802.2 L1636.5,800.5 L1637.0,798.1 L1637.5,795.0 L1638.0,791.2 L1638.5,786.7 L1639.0,781.5 L1639.5,775.7 L1640.0,769.3 L1640.5,762.2 L1641.0,754.5 L1641.5,746.2 L1642.0,737.4 L1642.5,728.0 L1643.0,718.1 L1643.5,707.7 L1644.0,696.9 L1644.5,685.6 L1645.0,673.9 L1645.5,661.8 L1646.0,649.3 L1646.5,636.6 L1647.0,623.5 L1647.5,610.2 L1648.0,596.7 L1648.5,583.0 L1649.0,569.1 L1649.5,555.2 L1650.0,541.1 L1650.5,527.0 L1651.0,512.9 L1651.5,498.8 L1652.0,484.8 L1652.5,470.9 L1653.0,457.1 L1653.5,443.4 L1654.0,430.0 L1654.5,416.8 L1655.0,403.9 L1655.5,391.3 L1656.0,379.0 L1656.5,367.1 L1657.0,355.6 L1657.5,344.5 L1658.0,333.8 L1658.5,323.6 L1659.0,313.9 L1659.5,304.8 L1660.0,296.2 L1660.5,288.2 L1661.0,280.7 L1661.5,273.9 L1662.0,267.7 L1662.5,262.1 L1663.0,257.2 L1663.5,252.9 L1664.0,249.3 L1664.5,246.4 L1665.0,244.2 L1665.5,242.7 L1666.0,241.9 L1666.5,241.6 L1667.0,241.8 L1667.5,242.7 L1668.0,244.3 L1668.5,246.6 L1669.0,249.6 L1669.5,253.3 L1670.0,257.7 L1670.5,262.8 L1671.0,268.5 L1671.5,274.9 L1672.0,281.9 L1672.5,289.5 L1673.0,297.7 L1673.5,306.5 L1674.0,315.8 L1674.5,325.6 L1675.0,335.9 L1675.5,346.7 L1676.0,358.0 L1676.5,369.6 L1677.0,381.6 L1677.5,394.0 L1678.0,406.6 L1678.5,419.6 L1679.0,432.8 L1679.5,446.2 L1680.0,459.7 L1680.5,473.4 L1681.0,487.2 L1681.5,501.1 L1682.0,515.0 L1682.5,528.9 L1683.0,542.7 L1683.5,556.4 L1684.0,570.0 L1684.5,583.5 L1685.0,596.8 L1685.5,609.8 L1686.0,622.5 L1686.5,635.0 L1687.0,647.1 L1687.5,658.8 L1688.0,670.2 L1688.5,681.1 L1689.0,691.6 L1689.5,701.5 L1690.0,711.0 L1690.5,719.8 L1691.0,728.2 L1691.5,735.9 L1692.0,743.0 L1692.5,749.5 L1693.0,755.3 L1693.5,760.5 L1694.0,765.0 L1694.5,768.8 L1695.0,771.8 L1695.5,774.2 L1696.0,775.8 L1696.5,776.7 L1697.0,776.9 L1697.5,775.9 L1698.0,774.3 L1698.5,771.9 L1699.0,768.8 L1699.5,765.0 L1700.0,760.4 L1700.5,755.1 L1701.0,749.2 L1701.5,742.5 L1702.0,735.2 L1702.5,727.3 L1703.0,718.7 L1703.5,709.5 L1704.0,699.7 L1704.5,689.4 L1705.0,678.6 L1705.5,667.2 L1706.0,655.4 L1706.5,643.1 L1707.0,630.4 L1707.5,617.3 L1708.0,603.9 L1708.5,590.2 L1709.0,576.1 L1709.5,561.9 L1710.0,547.4 L1710.5,532.8 L1711.0,518.0 L1711.5,503.1 L1712.0,488.2 L1712.5,473.2 L1713.0,458.3 L1713.5,443.4 L1714.0,428.7 L1714.5,414.0 L1715.0,399.5 L1715.5,385.2 L1716.0,371.2 L1716.5,357.5 L1717.0,344.0 L1717.5,330.9 L1718.0,318.2 L1718.5,305.9 L1719.0,294.0 L1719.5,282.6 L1720.0,271.7 L1720.5,261.4 L1721.0,251.5 L1721.5,242.3 L1722.0,233.7 L1722.5,225.7 L1723.0,218.3 L1723.5,211.6 L1724.0,205.6 L1724.5,200.2 L1725.0,195.6 L1725.5,191.7 L1726.0,188.5 L1726.5,186.0 L1727.0,184.3 L1727.5,183.3 L1728.0,183.4 L1728.5,184.3 L1729.0,186.0 L1729.5,188.4 L1730.0,191.4 L1730.5,195.2 L1731.0,199.6 L1731.5,204.8 L1732.0,210.5 L1732.5,217.0 L1733.0,224.0 L1733.5,231.6 L1734.0,239.8 L1734.5,248.6 L1735.0,257.9 L1735.5,267.6 L1736.0,277.9 L1736.5,288.6 L1737.0,299.8 L1737.5,311.3 L1738.0,323.2 L1738.5,335.4 L1739.0,347.9 L1739.5,360.6 L1740.0,373.6 L1740.5,386.8 L1741.0,400.1 L1741.5,413.6 L1742.0,427.1 L1742.5,440.7 L1743.0,454.3 L1743.5,467.9 L1744.0,481.4 L1744.5,494.8 L1745.0,508.1 L1745.5,521.2 L1746.0,534.2 L1746.5,546.9 L1747.0,559.3 L1747.5,571.4 L1748.0,583.2 L1748.5,594.7 L1749.0,605.7 L1749.5,616.3 L1750.0,626.5 L1750.5,636.3 L1751.0,645.5 L1751.5,654.2 L1752.0,662.3 L1752.5,669.9 L1753.0,677.0 L1753.5,683.4 L1754.0,689.2 L1754.5,694.3 L1755.0,698.9 L1755.5,702.7 L1756.0,706.0 L1756.5,708.5 L1757.0,710.4 L1757.5,711.5 L1758.0,712.0 L1758.5,711.9 L1759.0,711.5 L1759.5,710.4 L1760.0,708.7 L1760.5,706.3 L1761.0,703.1 L1761.5,699.3 L1762.0,694.9 L1762.5,689.7 L1763.0,684.0 L1763.5,677.6 L1764.0,670.6 L1764.5,663.0 L1765.0,654.8 L1765.5,646.1 L1766.0,636.8 L1766.5,627.1 L1767.0,616.8 L1767.5,606.2" stroke="#f00" stroke-width="6.3" stroke-dasharray="6.2 12.85" stroke-linecap="round"/>
</g>
<g stroke="#000" stroke-width="5" stroke-linecap="round" fill="none">
<path d="M203.0,62.5 H1770.0" stroke-linecap="butt"/>
<path d="M1767.5,60.0 V1040.0" stroke-linecap="butt"/>
<path d="M1767.5,160.00 h-9"/>
<path d="M1767.5,257.50 h-18"/>
<path d="M1767.5,355.00 h-9"/>
<path d="M1767.5,452.50 h-18"/>
<path d="M1767.5,550.00 h-9"/>
<path d="M1767.5,647.50 h-18"/>
<path d="M1767.5,745.00 h-9"/>
<path d="M1767.5,842.50 h-18"/>
<path d="M1767.5,940.00 h-9"/>
<path d="M361.70,62.5 v9"/>
<path d="M517.90,62.5 v18"/>
<path d="M674.10,62.5 v9"/>
<path d="M830.30,62.5 v18"/>
<path d="M986.50,62.5 v9"/>
<path d="M1142.70,62.5 v18"/>
<path d="M1298.90,62.5 v9"/>
<path d="M1455.10,62.5 v18"/>
<path d="M1611.30,62.5 v9"/>
</g>
<text font-family="'Noto Serif CJK SC','Liberation Serif',serif" font-weight="300" font-size="62" transform="scale(0.95,1)" x="114.1 148.5 182.9 217.4 251.8 286.2" y="1124.6">0.0000</text>
<text font-family="'Noto Serif CJK SC','Liberation Serif',serif" font-weight="300" font-size="62" transform="scale(0.95,1)" x="442.9 477.4 511.8 546.2 580.6 615.1" y="1124.6">0.0002</text>
<text font-family="'Noto Serif CJK SC','Liberation Serif',serif" font-weight="300" font-size="62" transform="scale(0.95,1)" x="771.8 806.2 840.6 875.1 909.5 943.9" y="1124.6">0.0004</text>
<text font-family="'Noto Serif CJK SC','Liberation Serif',serif" font-weight="300" font-size="62" transform="scale(0.95,1)" x="1100.6 1135.1 1169.5 1203.9 1238.3 1272.7" y="1124.6">0.0006</text>
<text font-family="'Noto Serif CJK SC','Liberation Serif',serif" font-weight="300" font-size="62" transform="scale(0.95,1)" x="1429.5 1463.9 1498.3 1532.7 1567.2 1601.6" y="1124.6">0.0008</text>
<text font-family="'Noto Serif CJK SC','Liberation Serif',serif" font-weight="300" font-size="62" transform="scale(0.95,1)" x="1758.3 1792.7 1827.2 1861.6 1896.0 1930.4" y="1124.6">0.0010</text>
<text font-family="'Noto Serif CJK SC','Liberation Serif',serif" font-weight="300" font-size="62" transform="scale(0.95,1)" x="116.4 150.8" y="86.7">10</text>
<text font-family="'Noto Serif CJK SC','Liberation Serif',serif" font-weight="300" font-size="62" transform="scale(0.95,1)" x="150.8" y="208.6">8</text>
<text font-family="'Noto Serif CJK SC','Liberation Serif',serif" font-weight="300" font-size="62" transform="scale(0.95,1)" x="150.8" y="330.4">6</text>
<text font-family="'Noto Serif CJK SC','Liberation Serif',serif" font-weight="300" font-size="62" transform="scale(0.95,1)" x="150.8" y="452.3">4</text>
<text font-family="'Noto Serif CJK SC','Liberation Serif',serif" font-weight="300" font-size="62" transform="scale(0.95,1)" x="150.8" y="574.2">2</text>
<text font-family="'Noto Serif CJK SC','Liberation Serif',serif" font-weight="300" font-size="62" transform="scale(0.95,1)" x="150.8" y="696.1">0</text>
<text font-family="'Noto Serif CJK SC','Liberation Serif',serif" font-weight="300" font-size="62" transform="scale(0.95,1)" x="150.8" y="818.0">2</text>
<text font-family="'Noto Serif CJK SC','Liberation Serif',serif" font-weight="300" font-size="56" x="110.6" y="812.8">−</text>
<text font-family="'Noto Serif CJK SC','Liberation Serif',serif" font-weight="300" font-size="62" transform="scale(0.95,1)" x="150.8" y="939.8">4</text>
<text font-family="'Noto Serif CJK SC','Liberation Serif',serif" font-weight="300" font-size="56" x="110.6" y="934.6">−</text>
<text font-family="'Noto Serif CJK SC','Liberation Serif',serif" font-weight="300" font-size="62" transform="scale(0.95,1)" x="150.8" y="1061.7">6</text>
<text font-family="'Noto Serif CJK SC','Liberation Serif',serif" font-weight="300" font-size="56" x="110.6" y="1056.5">−</text>
<text font-family="'Liberation Sans',sans-serif" font-size="75.3" x="235" y="150">LUAG</text>
<path d="M953,109.4 H1078" stroke="#000" stroke-width="3"/>
<path d="M955,175.9 H1060" stroke="#f00" stroke-width="6" stroke-dasharray="6.2 12.85" stroke-linecap="round"/>
<text font-family="'Liberation Sans',sans-serif" font-size="54.4" x="1092" y="128.9">Amplitude before filtering</text>
<text font-family="'Liberation Sans',sans-serif" font-size="54.4" x="1092" y="194.8">Amplitude after filtering</text>
<g transform="scale(1,1.05)" font-family="'Liberation Serif',serif"><text font-size="59.5" font-style="italic" x="345" y="863.0">v</text><text font-size="59.5" x="394.5" y="863.0">= 5.03 m/s</text></g>
<text font-family="'Liberation Serif',serif" font-size="24" font-style="italic" transform="translate(372,922.9) scale(1.22,1.05)">s</text>
<g transform="scale(1,1.05)" font-family="'Liberation Serif',serif"><text font-size="59.5" font-style="italic" x="345" y="942.2">v</text><text font-size="59.5" x="400" y="942.2">= 1100 mm/min</text></g>
<text font-family="'Liberation Serif',serif" font-size="24" font-style="italic" transform="translate(372,1006.0) scale(1.22,1.05)">w</text>
<g transform="scale(1,1.05)" font-family="'Liberation Serif',serif"><text font-size="59.5" font-style="italic" x="870.5" y="942.2">a</text><text font-size="59.5" x="925.5" y="942.2">= 29μm</text></g>
<text font-family="'Liberation Serif',serif" font-size="24" font-style="italic" transform="translate(899.5,1008.8) scale(1.22,1.05)">p</text>
<g transform="scale(1,1.04)" font-family="'Liberation Serif',serif" font-size="70"><text font-style="italic" x="884" y="1142.8">Time</text><text x="1059.2" y="1142.8">s</text></g>
<text font-family="'Noto Sans CJK SC','Liberation Sans',sans-serif" font-weight="100" font-size="100" transform="matrix(0.5326,0,-0.1073,0.5326,1020.29,1179.95)">/</text>
<g transform="translate(87.2,794.6) rotate(-90)"><text font-family="'Liberation Serif',serif" font-size="71" x="0" y="0"><tspan font-style="italic">Amplitude</tspan><tspan x="331.5">μm</tspan></text><text font-family="'Noto Sans CJK SC','Liberation Sans',sans-serif" font-weight="100" font-size="100" transform="matrix(0.5274,0,0.0243,0.5274,292.46,-7.07)">/</text></g>
</svg>
</body></html>
